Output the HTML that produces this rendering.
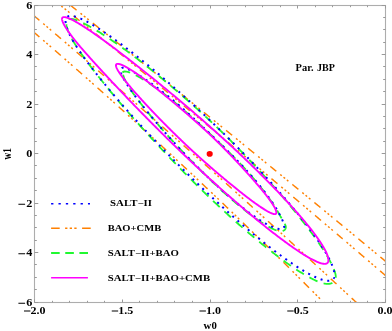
<!DOCTYPE html><html><head><meta charset="utf-8"><title>chart</title><style>html,body{margin:0;padding:0;background:#fff;}svg{display:block;will-change:transform;opacity:0.999;filter:blur(0.35px)}text{font-family:"Liberation Serif",serif;font-weight:bold;fill:#000}</style></head><body>
<svg width="392" height="331" viewBox="0 0 392 331">
<rect width="392" height="331" fill="#fff"/>
<defs><clipPath id="c"><rect x="34.50" y="5.50" width="351.00" height="297.00"/></clipPath></defs>
<g clip-path="url(#c)" fill="none">
<path d="M20.00,-34.70 L20.50,-34.30 L21.00,-33.91 L21.50,-33.51 L22.00,-33.12 L22.50,-32.72 L23.00,-32.33 L23.50,-31.93 L24.00,-31.54 L24.50,-31.14 L25.00,-30.75 L25.50,-30.35 L26.00,-29.96 L26.50,-29.56 L27.00,-29.17 L27.50,-28.77 L28.00,-28.38 L28.50,-27.98 L29.00,-27.59 L29.50,-27.19 L30.00,-26.79 L30.50,-26.40 L31.00,-26.00 L31.50,-25.61 L32.00,-25.21 L32.50,-24.82 L33.00,-24.42 L33.50,-24.03 L34.00,-23.63 L34.50,-23.24 L35.00,-22.84 L35.50,-22.44 L36.00,-22.05 L36.50,-21.65 L37.00,-21.26 L37.50,-20.86 L38.00,-20.47 L38.50,-20.07 L39.00,-19.67 L39.50,-19.28 L40.00,-18.88 L40.50,-18.49 L41.00,-18.09 L41.50,-17.69 L42.00,-17.30 L42.50,-16.90 L43.00,-16.51 L43.50,-16.11 L44.00,-15.71 L44.50,-15.32 L45.00,-14.92 L45.50,-14.52 L46.00,-14.13 L46.50,-13.73 L47.00,-13.34 L47.50,-12.94 L48.00,-12.54 L48.50,-12.15 L49.00,-11.75 L49.50,-11.35 L50.00,-10.96 L50.50,-10.56 L51.00,-10.16 L51.50,-9.77 L52.00,-9.37 L52.50,-8.98 L53.00,-8.58 L53.50,-8.18 L54.00,-7.79 L54.50,-7.39 L55.00,-6.99 L55.50,-6.60 L56.00,-6.20 L56.50,-5.80 L57.00,-5.40 L57.50,-5.01 L58.00,-4.61 L58.50,-4.21 L59.00,-3.82 L59.50,-3.42 L60.00,-3.02 L60.50,-2.63 L61.00,-2.23 L61.50,-1.83 L62.00,-1.43 L62.50,-1.04 L63.00,-0.64 L63.50,-0.24 L64.00,0.15 L64.50,0.55 L65.00,0.95 L65.50,1.35 L66.00,1.74 L66.50,2.14 L67.00,2.54 L67.50,2.94 L68.00,3.33 L68.50,3.73 L69.00,4.13 L69.50,4.53 L70.00,4.92 L70.50,5.32 L71.00,5.72 L71.50,6.12 L72.00,6.51 L72.50,6.91 L73.00,7.31 L73.50,7.71 L74.00,8.10 L74.50,8.50 L75.00,8.90 L75.50,9.30 L76.00,9.70 L76.50,10.09 L77.00,10.49 L77.50,10.89 L78.00,11.29 L78.50,11.69 L79.00,12.08 L79.50,12.48 L80.00,12.88 L80.50,13.28 L81.00,13.68 L81.50,14.07 L82.00,14.47 L82.50,14.87 L83.00,15.27 L83.50,15.67 L84.00,16.07 L84.50,16.46 L85.00,16.86 L85.50,17.26 L86.00,17.66 L86.50,18.06 L87.00,18.46 L87.50,18.85 L88.00,19.25 L88.50,19.65 L89.00,20.05 L89.50,20.45 L90.00,20.85 L90.50,21.25 L91.00,21.64 L91.50,22.04 L92.00,22.44 L92.50,22.84 L93.00,23.24 L93.50,23.64 L94.00,24.04 L94.50,24.44 L95.00,24.84 L95.50,25.23 L96.00,25.63 L96.50,26.03 L97.00,26.43 L97.50,26.83 L98.00,27.23 L98.50,27.63 L99.00,28.03 L99.50,28.43 L100.00,28.83 L100.50,29.23 L101.00,29.62 L101.50,30.02 L102.00,30.42 L102.50,30.82 L103.00,31.22 L103.50,31.62 L104.00,32.02 L104.50,32.42 L105.00,32.82 L105.50,33.22 L106.00,33.62 L106.50,34.02 L107.00,34.42 L107.50,34.82 L108.00,35.22 L108.50,35.62 L109.00,36.02 L109.50,36.42 L110.00,36.82 L110.50,37.22 L111.00,37.62 L111.50,38.02 L112.00,38.42 L112.50,38.82 L113.00,39.21 L113.50,39.61 L114.00,40.01 L114.50,40.41 L115.00,40.81 L115.50,41.21 L116.00,41.62 L116.50,42.02 L117.00,42.42 L117.50,42.82 L118.00,43.22 L118.50,43.62 L119.00,44.02 L119.50,44.42 L120.00,44.82 L120.50,45.22 L121.00,45.62 L121.50,46.02 L122.00,46.42 L122.50,46.82 L123.00,47.22 L123.50,47.62 L124.00,48.02 L124.50,48.42 L125.00,48.82 L125.50,49.22 L126.00,49.62 L126.50,50.02 L127.00,50.42 L127.50,50.82 L128.00,51.23 L128.50,51.63 L129.00,52.03 L129.50,52.43 L130.00,52.83 L130.50,53.23 L131.00,53.63 L131.50,54.03 L132.00,54.43 L132.50,54.83 L133.00,55.23 L133.50,55.63 L134.00,56.04 L134.50,56.44 L135.00,56.84 L135.50,57.24 L136.00,57.64 L136.50,58.04 L137.00,58.44 L137.50,58.84 L138.00,59.25 L138.50,59.65 L139.00,60.05 L139.50,60.45 L140.00,60.85 L140.50,61.25 L141.00,61.65 L141.50,62.06 L142.00,62.46 L142.50,62.86 L143.00,63.26 L143.50,63.66 L144.00,64.06 L144.50,64.46 L145.00,64.87 L145.50,65.27 L146.00,65.67 L146.50,66.07 L147.00,66.47 L147.50,66.87 L148.00,67.28 L148.50,67.68 L149.00,68.08 L149.50,68.48 L150.00,68.88 L150.50,69.29 L151.00,69.69 L151.50,70.09 L152.00,70.49 L152.50,70.89 L153.00,71.30 L153.50,71.70 L154.00,72.10 L154.50,72.50 L155.00,72.91 L155.50,73.31 L156.00,73.71 L156.50,74.11 L157.00,74.51 L157.50,74.92 L158.00,75.32 L158.50,75.72 L159.00,76.12 L159.50,76.53 L160.00,76.93 L160.50,77.33 L161.00,77.73 L161.50,78.14 L162.00,78.54 L162.50,78.94 L163.00,79.34 L163.50,79.75 L164.00,80.15 L164.50,80.55 L165.00,80.96 L165.50,81.36 L166.00,81.76 L166.50,82.16 L167.00,82.57 L167.50,82.97 L168.00,83.37 L168.50,83.78 L169.00,84.18 L169.50,84.58 L170.00,84.98 L170.50,85.39 L171.00,85.79 L171.50,86.19 L172.00,86.60 L172.50,87.00 L173.00,87.40 L173.50,87.81 L174.00,88.21 L174.50,88.61 L175.00,89.02 L175.50,89.42 L176.00,89.82 L176.50,90.23 L177.00,90.63 L177.50,91.03 L178.00,91.44 L178.50,91.84 L179.00,92.24 L179.50,92.65 L180.00,93.05 L180.50,93.45 L181.00,93.86 L181.50,94.26 L182.00,94.67 L182.50,95.07 L183.00,95.47 L183.50,95.88 L184.00,96.28 L184.50,96.68 L185.00,97.09 L185.50,97.49 L186.00,97.90 L186.50,98.30 L187.00,98.70 L187.50,99.11 L188.00,99.51 L188.50,99.92 L189.00,100.32 L189.50,100.72 L190.00,101.13 L190.50,101.53 L191.00,101.94 L191.50,102.34 L192.00,102.74 L192.50,103.15 L193.00,103.55 L193.50,103.96 L194.00,104.36 L194.50,104.77 L195.00,105.17 L195.50,105.58 L196.00,105.98 L196.50,106.38 L197.00,106.79 L197.50,107.19 L198.00,107.60 L198.50,108.00 L199.00,108.41 L199.50,108.81 L200.00,109.22 L200.50,109.62 L201.00,110.03 L201.50,110.43 L202.00,110.84 L202.50,111.24 L203.00,111.65 L203.50,112.05 L204.00,112.45 L204.50,112.86 L205.00,113.26 L205.50,113.67 L206.00,114.07 L206.50,114.48 L207.00,114.88 L207.50,115.29 L208.00,115.70 L208.50,116.10 L209.00,116.51 L209.50,116.91 L210.00,117.32 L210.50,117.72 L211.00,118.13 L211.50,118.53 L212.00,118.94 L212.50,119.34 L213.00,119.75 L213.50,120.15 L214.00,120.56 L214.50,120.96 L215.00,121.37 L215.50,121.78 L216.00,122.18 L216.50,122.59 L217.00,122.99 L217.50,123.40 L218.00,123.80 L218.50,124.21 L219.00,124.61 L219.50,125.02 L220.00,125.43 L220.50,125.83 L221.00,126.24 L221.50,126.64 L222.00,127.05 L222.50,127.46 L223.00,127.86 L223.50,128.27 L224.00,128.67 L224.50,129.08 L225.00,129.49 L225.50,129.89 L226.00,130.30 L226.50,130.70 L227.00,131.11 L227.50,131.52 L228.00,131.92 L228.50,132.33 L229.00,132.73 L229.50,133.14 L230.00,133.55 L230.50,133.95 L231.00,134.36 L231.50,134.77 L232.00,135.17 L232.50,135.58 L233.00,135.99 L233.50,136.39 L234.00,136.80 L234.50,137.21 L235.00,137.61 L235.50,138.02 L236.00,138.43 L236.50,138.83 L237.00,139.24 L237.50,139.65 L238.00,140.05 L238.50,140.46 L239.00,140.87 L239.50,141.27 L240.00,141.68 L240.50,142.09 L241.00,142.49 L241.50,142.90 L242.00,143.31 L242.50,143.71 L243.00,144.12 L243.50,144.53 L244.00,144.94 L244.50,145.34 L245.00,145.75 L245.50,146.16 L246.00,146.56 L246.50,146.97 L247.00,147.38 L247.50,147.79 L248.00,148.19 L248.50,148.60 L249.00,149.01 L249.50,149.42 L250.00,149.82 L250.50,150.23 L251.00,150.64 L251.50,151.04 L252.00,151.45 L252.50,151.86 L253.00,152.27 L253.50,152.68 L254.00,153.08 L254.50,153.49 L255.00,153.90 L255.50,154.31 L256.00,154.71 L256.50,155.12 L257.00,155.53 L257.50,155.94 L258.00,156.34 L258.50,156.75 L259.00,157.16 L259.50,157.57 L260.00,157.98 L260.50,158.38 L261.00,158.79 L261.50,159.20 L262.00,159.61 L262.50,160.02 L263.00,160.43 L263.50,160.83 L264.00,161.24 L264.50,161.65 L265.00,162.06 L265.50,162.47 L266.00,162.87 L266.50,163.28 L267.00,163.69 L267.50,164.10 L268.00,164.51 L268.50,164.92 L269.00,165.32 L269.50,165.73 L270.00,166.14 L270.50,166.55 L271.00,166.96 L271.50,167.37 L272.00,167.78 L272.50,168.18 L273.00,168.59 L273.50,169.00 L274.00,169.41 L274.50,169.82 L275.00,170.23 L275.50,170.64 L276.00,171.05 L276.50,171.45 L277.00,171.86 L277.50,172.27 L278.00,172.68 L278.50,173.09 L279.00,173.50 L279.50,173.91 L280.00,174.32 L280.50,174.73 L281.00,175.14 L281.50,175.55 L282.00,175.95 L282.50,176.36 L283.00,176.77 L283.50,177.18 L284.00,177.59 L284.50,178.00 L285.00,178.41 L285.50,178.82 L286.00,179.23 L286.50,179.64 L287.00,180.05 L287.50,180.46 L288.00,180.87 L288.50,181.28 L289.00,181.69 L289.50,182.10 L290.00,182.50 L290.50,182.91 L291.00,183.32 L291.50,183.73 L292.00,184.14 L292.50,184.55 L293.00,184.96 L293.50,185.37 L294.00,185.78 L294.50,186.19 L295.00,186.60 L295.50,187.01 L296.00,187.42 L296.50,187.83 L297.00,188.24 L297.50,188.65 L298.00,189.06 L298.50,189.47 L299.00,189.88 L299.50,190.29 L300.00,190.70 L300.50,191.11 L301.00,191.52 L301.50,191.93 L302.00,192.34 L302.50,192.75 L303.00,193.16 L303.50,193.57 L304.00,193.98 L304.50,194.40 L305.00,194.81 L305.50,195.22 L306.00,195.63 L306.50,196.04 L307.00,196.45 L307.50,196.86 L308.00,197.27 L308.50,197.68 L309.00,198.09 L309.50,198.50 L310.00,198.91 L310.50,199.32 L311.00,199.73 L311.50,200.14 L312.00,200.55 L312.50,200.97 L313.00,201.38 L313.50,201.79 L314.00,202.20 L314.50,202.61 L315.00,203.02 L315.50,203.43 L316.00,203.84 L316.50,204.25 L317.00,204.66 L317.50,205.08 L318.00,205.49 L318.50,205.90 L319.00,206.31 L319.50,206.72 L320.00,207.13 L320.50,207.54 L321.00,207.95 L321.50,208.37 L322.00,208.78 L322.50,209.19 L323.00,209.60 L323.50,210.01 L324.00,210.42 L324.50,210.83 L325.00,211.25 L325.50,211.66 L326.00,212.07 L326.50,212.48 L327.00,212.89 L327.50,213.30 L328.00,213.72 L328.50,214.13 L329.00,214.54 L329.50,214.95 L330.00,215.36 L330.50,215.77 L331.00,216.19 L331.50,216.60 L332.00,217.01 L332.50,217.42 L333.00,217.83 L333.50,218.25 L334.00,218.66 L334.50,219.07 L335.00,219.48 L335.50,219.89 L336.00,220.31 L336.50,220.72 L337.00,221.13 L337.50,221.54 L338.00,221.95 L338.50,222.37 L339.00,222.78 L339.50,223.19 L340.00,223.60 L340.50,224.02 L341.00,224.43 L341.50,224.84 L342.00,225.25 L342.50,225.67 L343.00,226.08 L343.50,226.49 L344.00,226.90 L344.50,227.32 L345.00,227.73 L345.50,228.14 L346.00,228.55 L346.50,228.97 L347.00,229.38 L347.50,229.79 L348.00,230.21 L348.50,230.62 L349.00,231.03 L349.50,231.44 L350.00,231.86 L350.50,232.27 L351.00,232.68 L351.50,233.10 L352.00,233.51 L352.50,233.92 L353.00,234.33 L353.50,234.75 L354.00,235.16 L354.50,235.57 L355.00,235.99 L355.50,236.40 L356.00,236.81 L356.50,237.23 L357.00,237.64 L357.50,238.05 L358.00,238.47 L358.50,238.88 L359.00,239.29 L359.50,239.71 L360.00,240.12 L360.50,240.53 L361.00,240.95 L361.50,241.36 L362.00,241.77 L362.50,242.19 L363.00,242.60 L363.50,243.02 L364.00,243.43 L364.50,243.84 L365.00,244.26 L365.50,244.67 L366.00,245.08 L366.50,245.50 L367.00,245.91 L367.50,246.33 L368.00,246.74 L368.50,247.15 L369.00,247.57 L369.50,247.98 L370.00,248.40 L370.50,248.81 L371.00,249.22 L371.50,249.64 L372.00,250.05 L372.50,250.47 L373.00,250.88 L373.50,251.29 L374.00,251.71 L374.50,252.12 L375.00,252.54 L375.50,252.95 L376.00,253.37 L376.50,253.78 L377.00,254.19 L377.50,254.61 L378.00,255.02 L378.50,255.44 L379.00,255.85 L379.50,256.27 L380.00,256.68 L380.50,257.10 L381.00,257.51 L381.50,257.92 L382.00,258.34 L382.50,258.75 L383.00,259.17 L383.50,259.58 L384.00,260.00 L384.50,260.41 L385.00,260.83 L385.50,261.24 L386.00,261.66 L386.50,262.07 L387.00,262.49 L387.50,262.90 L388.00,263.32 L388.50,263.73 L389.00,264.15 L389.50,264.56 L390.00,264.98 L390.50,265.39 L391.00,265.81 L391.50,266.22 L392.00,266.64 L392.50,267.05 L393.00,267.47 L393.50,267.88 L394.00,268.30 L394.50,268.71 L395.00,269.13 L395.50,269.55 L396.00,269.96 L396.50,270.38 L397.00,270.79 L397.50,271.21 L398.00,271.62 L398.50,272.04 L399.00,272.45 L399.50,272.87 L400.00,273.28" stroke="#ff8000" stroke-width="1.45" stroke-dasharray="7.7766 5.0348 1.994 2.2931 1.994 2.2931 1.994 5.1345" stroke-dashoffset="21.11"/>
<path d="M20.00,-27.00 L20.50,-26.60 L21.00,-26.20 L21.50,-25.81 L22.00,-25.41 L22.50,-25.01 L23.00,-24.61 L23.50,-24.21 L24.00,-23.81 L24.50,-23.42 L25.00,-23.02 L25.50,-22.62 L26.00,-22.22 L26.50,-21.82 L27.00,-21.42 L27.50,-21.03 L28.00,-20.63 L28.50,-20.23 L29.00,-19.83 L29.50,-19.43 L30.00,-19.03 L30.50,-18.63 L31.00,-18.23 L31.50,-17.83 L32.00,-17.44 L32.50,-17.04 L33.00,-16.64 L33.50,-16.24 L34.00,-15.84 L34.50,-15.44 L35.00,-15.04 L35.50,-14.64 L36.00,-14.24 L36.50,-13.84 L37.00,-13.44 L37.50,-13.04 L38.00,-12.64 L38.50,-12.25 L39.00,-11.85 L39.50,-11.45 L40.00,-11.05 L40.50,-10.65 L41.00,-10.25 L41.50,-9.85 L42.00,-9.45 L42.50,-9.05 L43.00,-8.65 L43.50,-8.25 L44.00,-7.85 L44.50,-7.45 L45.00,-7.05 L45.50,-6.65 L46.00,-6.25 L46.50,-5.85 L47.00,-5.45 L47.50,-5.05 L48.00,-4.65 L48.50,-4.25 L49.00,-3.85 L49.50,-3.44 L50.00,-3.04 L50.50,-2.64 L51.00,-2.24 L51.50,-1.84 L52.00,-1.44 L52.50,-1.04 L53.00,-0.64 L53.50,-0.24 L54.00,0.16 L54.50,0.56 L55.00,0.96 L55.50,1.36 L56.00,1.77 L56.50,2.17 L57.00,2.57 L57.50,2.97 L58.00,3.37 L58.50,3.77 L59.00,4.17 L59.50,4.57 L60.00,4.98 L60.50,5.38 L61.00,5.78 L61.50,6.18 L62.00,6.58 L62.50,6.98 L63.00,7.39 L63.50,7.79 L64.00,8.19 L64.50,8.59 L65.00,8.99 L65.50,9.39 L66.00,9.80 L66.50,10.20 L67.00,10.60 L67.50,11.00 L68.00,11.40 L68.50,11.81 L69.00,12.21 L69.50,12.61 L70.00,13.01 L70.50,13.42 L71.00,13.82 L71.50,14.22 L72.00,14.62 L72.50,15.03 L73.00,15.43 L73.50,15.83 L74.00,16.23 L74.50,16.64 L75.00,17.04 L75.50,17.44 L76.00,17.84 L76.50,18.25 L77.00,18.65 L77.50,19.05 L78.00,19.46 L78.50,19.86 L79.00,20.26 L79.50,20.66 L80.00,21.07 L80.50,21.47 L81.00,21.87 L81.50,22.28 L82.00,22.68 L82.50,23.08 L83.00,23.49 L83.50,23.89 L84.00,24.29 L84.50,24.70 L85.00,25.10 L85.50,25.51 L86.00,25.91 L86.50,26.31 L87.00,26.72 L87.50,27.12 L88.00,27.52 L88.50,27.93 L89.00,28.33 L89.50,28.74 L90.00,29.14 L90.50,29.54 L91.00,29.95 L91.50,30.35 L92.00,30.76 L92.50,31.16 L93.00,31.56 L93.50,31.97 L94.00,32.37 L94.50,32.78 L95.00,33.18 L95.50,33.59 L96.00,33.99 L96.50,34.40 L97.00,34.80 L97.50,35.21 L98.00,35.61 L98.50,36.01 L99.00,36.42 L99.50,36.82 L100.00,37.23 L100.50,37.63 L101.00,38.04 L101.50,38.44 L102.00,38.85 L102.50,39.25 L103.00,39.66 L103.50,40.06 L104.00,40.47 L104.50,40.88 L105.00,41.28 L105.50,41.69 L106.00,42.09 L106.50,42.50 L107.00,42.90 L107.50,43.31 L108.00,43.71 L108.50,44.12 L109.00,44.52 L109.50,44.93 L110.00,45.34 L110.50,45.74 L111.00,46.15 L111.50,46.55 L112.00,46.96 L112.50,47.37 L113.00,47.77 L113.50,48.18 L114.00,48.58 L114.50,48.99 L115.00,49.40 L115.50,49.80 L116.00,50.21 L116.50,50.61 L117.00,51.02 L117.50,51.43 L118.00,51.83 L118.50,52.24 L119.00,52.65 L119.50,53.05 L120.00,53.46 L120.50,53.87 L121.00,54.27 L121.50,54.68 L122.00,55.09 L122.50,55.49 L123.00,55.90 L123.50,56.31 L124.00,56.71 L124.50,57.12 L125.00,57.53 L125.50,57.94 L126.00,58.34 L126.50,58.75 L127.00,59.16 L127.50,59.57 L128.00,59.97 L128.50,60.38 L129.00,60.79 L129.50,61.19 L130.00,61.60 L130.50,62.01 L131.00,62.42 L131.50,62.82 L132.00,63.23 L132.50,63.64 L133.00,64.05 L133.50,64.46 L134.00,64.86 L134.50,65.27 L135.00,65.68 L135.50,66.09 L136.00,66.50 L136.50,66.90 L137.00,67.31 L137.50,67.72 L138.00,68.13 L138.50,68.54 L139.00,68.94 L139.50,69.35 L140.00,69.76 L140.50,70.17 L141.00,70.58 L141.50,70.99 L142.00,71.40 L142.50,71.80 L143.00,72.21 L143.50,72.62 L144.00,73.03 L144.50,73.44 L145.00,73.85 L145.50,74.26 L146.00,74.66 L146.50,75.07 L147.00,75.48 L147.50,75.89 L148.00,76.30 L148.50,76.71 L149.00,77.12 L149.50,77.53 L150.00,77.94 L150.50,78.35 L151.00,78.76 L151.50,79.17 L152.00,79.57 L152.50,79.98 L153.00,80.39 L153.50,80.80 L154.00,81.21 L154.50,81.62 L155.00,82.03 L155.50,82.44 L156.00,82.85 L156.50,83.26 L157.00,83.67 L157.50,84.08 L158.00,84.49 L158.50,84.90 L159.00,85.31 L159.50,85.72 L160.00,86.13 L160.50,86.54 L161.00,86.95 L161.50,87.36 L162.00,87.77 L162.50,88.18 L163.00,88.59 L163.50,89.00 L164.00,89.41 L164.50,89.82 L165.00,90.23 L165.50,90.65 L166.00,91.06 L166.50,91.47 L167.00,91.88 L167.50,92.29 L168.00,92.70 L168.50,93.11 L169.00,93.52 L169.50,93.93 L170.00,94.34 L170.50,94.75 L171.00,95.16 L171.50,95.58 L172.00,95.99 L172.50,96.40 L173.00,96.81 L173.50,97.22 L174.00,97.63 L174.50,98.04 L175.00,98.45 L175.50,98.87 L176.00,99.28 L176.50,99.69 L177.00,100.10 L177.50,100.51 L178.00,100.92 L178.50,101.34 L179.00,101.75 L179.50,102.16 L180.00,102.57 L180.50,102.98 L181.00,103.40 L181.50,103.81 L182.00,104.22 L182.50,104.63 L183.00,105.04 L183.50,105.46 L184.00,105.87 L184.50,106.28 L185.00,106.69 L185.50,107.10 L186.00,107.52 L186.50,107.93 L187.00,108.34 L187.50,108.75 L188.00,109.17 L188.50,109.58 L189.00,109.99 L189.50,110.40 L190.00,110.82 L190.50,111.23 L191.00,111.64 L191.50,112.06 L192.00,112.47 L192.50,112.88 L193.00,113.29 L193.50,113.71 L194.00,114.12 L194.50,114.53 L195.00,114.95 L195.50,115.36 L196.00,115.77 L196.50,116.19 L197.00,116.60 L197.50,117.01 L198.00,117.43 L198.50,117.84 L199.00,118.25 L199.50,118.67 L200.00,119.08 L200.50,119.49 L201.00,119.91 L201.50,120.32 L202.00,120.74 L202.50,121.15 L203.00,121.56 L203.50,121.98 L204.00,122.39 L204.50,122.81 L205.00,123.22 L205.50,123.63 L206.00,124.05 L206.50,124.46 L207.00,124.88 L207.50,125.29 L208.00,125.70 L208.50,126.12 L209.00,126.53 L209.50,126.95 L210.00,127.36 L210.50,127.78 L211.00,128.19 L211.50,128.61 L212.00,129.02 L212.50,129.43 L213.00,129.85 L213.50,130.26 L214.00,130.68 L214.50,131.09 L215.00,131.51 L215.50,131.92 L216.00,132.34 L216.50,132.75 L217.00,133.17 L217.50,133.58 L218.00,134.00 L218.50,134.41 L219.00,134.83 L219.50,135.24 L220.00,135.66 L220.50,136.08 L221.00,136.49 L221.50,136.91 L222.00,137.32 L222.50,137.74 L223.00,138.15 L223.50,138.57 L224.00,138.98 L224.50,139.40 L225.00,139.82 L225.50,140.23 L226.00,140.65 L226.50,141.06 L227.00,141.48 L227.50,141.90 L228.00,142.31 L228.50,142.73 L229.00,143.14 L229.50,143.56 L230.00,143.98 L230.50,144.39 L231.00,144.81 L231.50,145.22 L232.00,145.64 L232.50,146.06 L233.00,146.47 L233.50,146.89 L234.00,147.31 L234.50,147.72 L235.00,148.14 L235.50,148.56 L236.00,148.97 L236.50,149.39 L237.00,149.81 L237.50,150.22 L238.00,150.64 L238.50,151.06 L239.00,151.47 L239.50,151.89 L240.00,152.31 L240.50,152.73 L241.00,153.14 L241.50,153.56 L242.00,153.98 L242.50,154.39 L243.00,154.81 L243.50,155.23 L244.00,155.65 L244.50,156.06 L245.00,156.48 L245.50,156.90 L246.00,157.32 L246.50,157.73 L247.00,158.15 L247.50,158.57 L248.00,158.99 L248.50,159.41 L249.00,159.82 L249.50,160.24 L250.00,160.66 L250.50,161.08 L251.00,161.50 L251.50,161.91 L252.00,162.33 L252.50,162.75 L253.00,163.17 L253.50,163.59 L254.00,164.00 L254.50,164.42 L255.00,164.84 L255.50,165.26 L256.00,165.68 L256.50,166.10 L257.00,166.51 L257.50,166.93 L258.00,167.35 L258.50,167.77 L259.00,168.19 L259.50,168.61 L260.00,169.03 L260.50,169.45 L261.00,169.86 L261.50,170.28 L262.00,170.70 L262.50,171.12 L263.00,171.54 L263.50,171.96 L264.00,172.38 L264.50,172.80 L265.00,173.22 L265.50,173.64 L266.00,174.06 L266.50,174.48 L267.00,174.89 L267.50,175.31 L268.00,175.73 L268.50,176.15 L269.00,176.57 L269.50,176.99 L270.00,177.41 L270.50,177.83 L271.00,178.25 L271.50,178.67 L272.00,179.09 L272.50,179.51 L273.00,179.93 L273.50,180.35 L274.00,180.77 L274.50,181.19 L275.00,181.61 L275.50,182.03 L276.00,182.45 L276.50,182.87 L277.00,183.29 L277.50,183.71 L278.00,184.13 L278.50,184.55 L279.00,184.97 L279.50,185.39 L280.00,185.82 L280.50,186.24 L281.00,186.66 L281.50,187.08 L282.00,187.50 L282.50,187.92 L283.00,188.34 L283.50,188.76 L284.00,189.18 L284.50,189.60 L285.00,190.02 L285.50,190.44 L286.00,190.86 L286.50,191.29 L287.00,191.71 L287.50,192.13 L288.00,192.55 L288.50,192.97 L289.00,193.39 L289.50,193.81 L290.00,194.24 L290.50,194.66 L291.00,195.08 L291.50,195.50 L292.00,195.92 L292.50,196.34 L293.00,196.76 L293.50,197.19 L294.00,197.61 L294.50,198.03 L295.00,198.45 L295.50,198.87 L296.00,199.30 L296.50,199.72 L297.00,200.14 L297.50,200.56 L298.00,200.98 L298.50,201.41 L299.00,201.83 L299.50,202.25 L300.00,202.67 L300.50,203.09 L301.00,203.52 L301.50,203.94 L302.00,204.36 L302.50,204.78 L303.00,205.21 L303.50,205.63 L304.00,206.05 L304.50,206.48 L305.00,206.90 L305.50,207.32 L306.00,207.74 L306.50,208.17 L307.00,208.59 L307.50,209.01 L308.00,209.44 L308.50,209.86 L309.00,210.28 L309.50,210.70 L310.00,211.13 L310.50,211.55 L311.00,211.97 L311.50,212.40 L312.00,212.82 L312.50,213.24 L313.00,213.67 L313.50,214.09 L314.00,214.51 L314.50,214.94 L315.00,215.36 L315.50,215.79 L316.00,216.21 L316.50,216.63 L317.00,217.06 L317.50,217.48 L318.00,217.90 L318.50,218.33 L319.00,218.75 L319.50,219.18 L320.00,219.60 L320.50,220.02 L321.00,220.45 L321.50,220.87 L322.00,221.30 L322.50,221.72 L323.00,222.14 L323.50,222.57 L324.00,222.99 L324.50,223.42 L325.00,223.84 L325.50,224.27 L326.00,224.69 L326.50,225.12 L327.00,225.54 L327.50,225.97 L328.00,226.39 L328.50,226.81 L329.00,227.24 L329.50,227.66 L330.00,228.09 L330.50,228.51 L331.00,228.94 L331.50,229.36 L332.00,229.79 L332.50,230.21 L333.00,230.64 L333.50,231.06 L334.00,231.49 L334.50,231.92 L335.00,232.34 L335.50,232.77 L336.00,233.19 L336.50,233.62 L337.00,234.04 L337.50,234.47 L338.00,234.89 L338.50,235.32 L339.00,235.74 L339.50,236.17 L340.00,236.60 L340.50,237.02 L341.00,237.45 L341.50,237.87 L342.00,238.30 L342.50,238.73 L343.00,239.15 L343.50,239.58 L344.00,240.00 L344.50,240.43 L345.00,240.86 L345.50,241.28 L346.00,241.71 L346.50,242.14 L347.00,242.56 L347.50,242.99 L348.00,243.41 L348.50,243.84 L349.00,244.27 L349.50,244.69 L350.00,245.12 L350.50,245.55 L351.00,245.97 L351.50,246.40 L352.00,246.83 L352.50,247.25 L353.00,247.68 L353.50,248.11 L354.00,248.54 L354.50,248.96 L355.00,249.39 L355.50,249.82 L356.00,250.24 L356.50,250.67 L357.00,251.10 L357.50,251.53 L358.00,251.95 L358.50,252.38 L359.00,252.81 L359.50,253.24 L360.00,253.66 L360.50,254.09 L361.00,254.52 L361.50,254.95 L362.00,255.37 L362.50,255.80 L363.00,256.23 L363.50,256.66 L364.00,257.08 L364.50,257.51 L365.00,257.94 L365.50,258.37 L366.00,258.80 L366.50,259.22 L367.00,259.65 L367.50,260.08 L368.00,260.51 L368.50,260.94 L369.00,261.37 L369.50,261.79 L370.00,262.22 L370.50,262.65 L371.00,263.08 L371.50,263.51 L372.00,263.94 L372.50,264.36 L373.00,264.79 L373.50,265.22 L374.00,265.65 L374.50,266.08 L375.00,266.51 L375.50,266.94 L376.00,267.37 L376.50,267.79 L377.00,268.22 L377.50,268.65 L378.00,269.08 L378.50,269.51 L379.00,269.94 L379.50,270.37 L380.00,270.80 L380.50,271.23 L381.00,271.66 L381.50,272.09 L382.00,272.52 L382.50,272.95 L383.00,273.38 L383.50,273.80 L384.00,274.23 L384.50,274.66 L385.00,275.09 L385.50,275.52 L386.00,275.95 L386.50,276.38 L387.00,276.81 L387.50,277.24 L388.00,277.67 L388.50,278.10 L389.00,278.53 L389.50,278.96 L390.00,279.39 L390.50,279.82 L391.00,280.25 L391.50,280.68 L392.00,281.11 L392.50,281.54 L393.00,281.97 L393.50,282.40 L394.00,282.84 L394.50,283.27 L395.00,283.70 L395.50,284.13 L396.00,284.56 L396.50,284.99 L397.00,285.42 L397.50,285.85 L398.00,286.28 L398.50,286.71 L399.00,287.14 L399.50,287.57 L400.00,288.00" stroke="#ff8000" stroke-width="1.45" stroke-dasharray="7.7688 5.0298 1.992 2.2908 1.992 2.2908 1.992 5.1294" stroke-dashoffset="16.92"/>
<path d="M20.00,3.90 L20.50,4.32 L21.00,4.74 L21.50,5.17 L22.00,5.59 L22.50,6.01 L23.00,6.43 L23.50,6.86 L24.00,7.28 L24.50,7.70 L25.00,8.12 L25.50,8.55 L26.00,8.97 L26.50,9.39 L27.00,9.82 L27.50,10.24 L28.00,10.66 L28.50,11.09 L29.00,11.51 L29.50,11.93 L30.00,12.36 L30.50,12.78 L31.00,13.20 L31.50,13.63 L32.00,14.05 L32.50,14.47 L33.00,14.90 L33.50,15.32 L34.00,15.75 L34.50,16.17 L35.00,16.59 L35.50,17.02 L36.00,17.44 L36.50,17.87 L37.00,18.29 L37.50,18.71 L38.00,19.14 L38.50,19.56 L39.00,19.99 L39.50,20.41 L40.00,20.84 L40.50,21.26 L41.00,21.69 L41.50,22.11 L42.00,22.54 L42.50,22.96 L43.00,23.39 L43.50,23.81 L44.00,24.24 L44.50,24.66 L45.00,25.09 L45.50,25.51 L46.00,25.94 L46.50,26.36 L47.00,26.79 L47.50,27.22 L48.00,27.64 L48.50,28.07 L49.00,28.49 L49.50,28.92 L50.00,29.35 L50.50,29.77 L51.00,30.20 L51.50,30.62 L52.00,31.05 L52.50,31.48 L53.00,31.90 L53.50,32.33 L54.00,32.76 L54.50,33.18 L55.00,33.61 L55.50,34.04 L56.00,34.46 L56.50,34.89 L57.00,35.32 L57.50,35.74 L58.00,36.17 L58.50,36.60 L59.00,37.02 L59.50,37.45 L60.00,37.88 L60.50,38.31 L61.00,38.73 L61.50,39.16 L62.00,39.59 L62.50,40.02 L63.00,40.44 L63.50,40.87 L64.00,41.30 L64.50,41.73 L65.00,42.16 L65.50,42.58 L66.00,43.01 L66.50,43.44 L67.00,43.87 L67.50,44.30 L68.00,44.72 L68.50,45.15 L69.00,45.58 L69.50,46.01 L70.00,46.44 L70.50,46.87 L71.00,47.30 L71.50,47.72 L72.00,48.15 L72.50,48.58 L73.00,49.01 L73.50,49.44 L74.00,49.87 L74.50,50.30 L75.00,50.73 L75.50,51.16 L76.00,51.59 L76.50,52.02 L77.00,52.44 L77.50,52.87 L78.00,53.30 L78.50,53.73 L79.00,54.16 L79.50,54.59 L80.00,55.02 L80.50,55.45 L81.00,55.88 L81.50,56.31 L82.00,56.74 L82.50,57.17 L83.00,57.60 L83.50,58.03 L84.00,58.46 L84.50,58.89 L85.00,59.33 L85.50,59.76 L86.00,60.19 L86.50,60.62 L87.00,61.05 L87.50,61.48 L88.00,61.91 L88.50,62.34 L89.00,62.77 L89.50,63.20 L90.00,63.63 L90.50,64.07 L91.00,64.50 L91.50,64.93 L92.00,65.36 L92.50,65.79 L93.00,66.22 L93.50,66.65 L94.00,67.09 L94.50,67.52 L95.00,67.95 L95.50,68.38 L96.00,68.81 L96.50,69.24 L97.00,69.68 L97.50,70.11 L98.00,70.54 L98.50,70.97 L99.00,71.41 L99.50,71.84 L100.00,72.27 L100.50,72.70 L101.00,73.14 L101.50,73.57 L102.00,74.00 L102.50,74.43 L103.00,74.87 L103.50,75.30 L104.00,75.73 L104.50,76.17 L105.00,76.60 L105.50,77.03 L106.00,77.46 L106.50,77.90 L107.00,78.33 L107.50,78.76 L108.00,79.20 L108.50,79.63 L109.00,80.07 L109.50,80.50 L110.00,80.93 L110.50,81.37 L111.00,81.80 L111.50,82.23 L112.00,82.67 L112.50,83.10 L113.00,83.54 L113.50,83.97 L114.00,84.41 L114.50,84.84 L115.00,85.27 L115.50,85.71 L116.00,86.14 L116.50,86.58 L117.00,87.01 L117.50,87.45 L118.00,87.88 L118.50,88.32 L119.00,88.75 L119.50,89.19 L120.00,89.62 L120.50,90.06 L121.00,90.49 L121.50,90.93 L122.00,91.36 L122.50,91.80 L123.00,92.23 L123.50,92.67 L124.00,93.10 L124.50,93.54 L125.00,93.97 L125.50,94.41 L126.00,94.85 L126.50,95.28 L127.00,95.72 L127.50,96.15 L128.00,96.59 L128.50,97.03 L129.00,97.46 L129.50,97.90 L130.00,98.34 L130.50,98.77 L131.00,99.21 L131.50,99.64 L132.00,100.08 L132.50,100.52 L133.00,100.95 L133.50,101.39 L134.00,101.83 L134.50,102.26 L135.00,102.70 L135.50,103.14 L136.00,103.58 L136.50,104.01 L137.00,104.45 L137.50,104.89 L138.00,105.32 L138.50,105.76 L139.00,106.20 L139.50,106.64 L140.00,107.07 L140.50,107.51 L141.00,107.95 L141.50,108.39 L142.00,108.83 L142.50,109.26 L143.00,109.70 L143.50,110.14 L144.00,110.58 L144.50,111.02 L145.00,111.45 L145.50,111.89 L146.00,112.33 L146.50,112.77 L147.00,113.21 L147.50,113.65 L148.00,114.09 L148.50,114.52 L149.00,114.96 L149.50,115.40 L150.00,115.84 L150.50,116.28 L151.00,116.72 L151.50,117.16 L152.00,117.60 L152.50,118.04 L153.00,118.48 L153.50,118.91 L154.00,119.35 L154.50,119.79 L155.00,120.23 L155.50,120.67 L156.00,121.11 L156.50,121.55 L157.00,121.99 L157.50,122.43 L158.00,122.87 L158.50,123.31 L159.00,123.75 L159.50,124.19 L160.00,124.63 L160.50,125.07 L161.00,125.51 L161.50,125.95 L162.00,126.39 L162.50,126.83 L163.00,127.27 L163.50,127.71 L164.00,128.16 L164.50,128.60 L165.00,129.04 L165.50,129.48 L166.00,129.92 L166.50,130.36 L167.00,130.80 L167.50,131.24 L168.00,131.68 L168.50,132.12 L169.00,132.57 L169.50,133.01 L170.00,133.45 L170.50,133.89 L171.00,134.33 L171.50,134.77 L172.00,135.22 L172.50,135.66 L173.00,136.10 L173.50,136.54 L174.00,136.98 L174.50,137.43 L175.00,137.87 L175.50,138.31 L176.00,138.75 L176.50,139.19 L177.00,139.64 L177.50,140.08 L178.00,140.52 L178.50,140.96 L179.00,141.41 L179.50,141.85 L180.00,142.29 L180.50,142.73 L181.00,143.18 L181.50,143.62 L182.00,144.06 L182.50,144.51 L183.00,144.95 L183.50,145.39 L184.00,145.84 L184.50,146.28 L185.00,146.72 L185.50,147.17 L186.00,147.61 L186.50,148.05 L187.00,148.50 L187.50,148.94 L188.00,149.39 L188.50,149.83 L189.00,150.27 L189.50,150.72 L190.00,151.16 L190.50,151.60 L191.00,152.05 L191.50,152.49 L192.00,152.94 L192.50,153.38 L193.00,153.83 L193.50,154.27 L194.00,154.72 L194.50,155.16 L195.00,155.60 L195.50,156.05 L196.00,156.49 L196.50,156.94 L197.00,157.38 L197.50,157.83 L198.00,158.27 L198.50,158.72 L199.00,159.16 L199.50,159.61 L200.00,160.06 L200.50,160.50 L201.00,160.95 L201.50,161.39 L202.00,161.84 L202.50,162.28 L203.00,162.73 L203.50,163.17 L204.00,163.62 L204.50,164.07 L205.00,164.51 L205.50,164.96 L206.00,165.40 L206.50,165.85 L207.00,166.30 L207.50,166.74 L208.00,167.19 L208.50,167.64 L209.00,168.08 L209.50,168.53 L210.00,168.98 L210.50,169.42 L211.00,169.87 L211.50,170.32 L212.00,170.76 L212.50,171.21 L213.00,171.66 L213.50,172.10 L214.00,172.55 L214.50,173.00 L215.00,173.45 L215.50,173.89 L216.00,174.34 L216.50,174.79 L217.00,175.24 L217.50,175.68 L218.00,176.13 L218.50,176.58 L219.00,177.03 L219.50,177.47 L220.00,177.92 L220.50,178.37 L221.00,178.82 L221.50,179.27 L222.00,179.71 L222.50,180.16 L223.00,180.61 L223.50,181.06 L224.00,181.51 L224.50,181.96 L225.00,182.40 L225.50,182.85 L226.00,183.30 L226.50,183.75 L227.00,184.20 L227.50,184.65 L228.00,185.10 L228.50,185.55 L229.00,186.00 L229.50,186.44 L230.00,186.89 L230.50,187.34 L231.00,187.79 L231.50,188.24 L232.00,188.69 L232.50,189.14 L233.00,189.59 L233.50,190.04 L234.00,190.49 L234.50,190.94 L235.00,191.39 L235.50,191.84 L236.00,192.29 L236.50,192.74 L237.00,193.19 L237.50,193.64 L238.00,194.09 L238.50,194.54 L239.00,194.99 L239.50,195.44 L240.00,195.89 L240.50,196.34 L241.00,196.79 L241.50,197.24 L242.00,197.69 L242.50,198.15 L243.00,198.60 L243.50,199.05 L244.00,199.50 L244.50,199.95 L245.00,200.40 L245.50,200.85 L246.00,201.30 L246.50,201.75 L247.00,202.21 L247.50,202.66 L248.00,203.11 L248.50,203.56 L249.00,204.01 L249.50,204.46 L250.00,204.92 L250.50,205.37 L251.00,205.82 L251.50,206.27 L252.00,206.72 L252.50,207.18 L253.00,207.63 L253.50,208.08 L254.00,208.53 L254.50,208.98 L255.00,209.44 L255.50,209.89 L256.00,210.34 L256.50,210.79 L257.00,211.25 L257.50,211.70 L258.00,212.15 L258.50,212.61 L259.00,213.06 L259.50,213.51 L260.00,213.96 L260.50,214.42 L261.00,214.87 L261.50,215.32 L262.00,215.78 L262.50,216.23 L263.00,216.68 L263.50,217.14 L264.00,217.59 L264.50,218.05 L265.00,218.50 L265.50,218.95 L266.00,219.41 L266.50,219.86 L267.00,220.31 L267.50,220.77 L268.00,221.22 L268.50,221.68 L269.00,222.13 L269.50,222.59 L270.00,223.04 L270.50,223.49 L271.00,223.95 L271.50,224.40 L272.00,224.86 L272.50,225.31 L273.00,225.77 L273.50,226.22 L274.00,226.68 L274.50,227.13 L275.00,227.59 L275.50,228.04 L276.00,228.50 L276.50,228.95 L277.00,229.41 L277.50,229.86 L278.00,230.32 L278.50,230.77 L279.00,231.23 L279.50,231.69 L280.00,232.14 L280.50,232.60 L281.00,233.05 L281.50,233.51 L282.00,233.96 L282.50,234.42 L283.00,234.88 L283.50,235.33 L284.00,235.79 L284.50,236.25 L285.00,236.70 L285.50,237.16 L286.00,237.61 L286.50,238.07 L287.00,238.53 L287.50,238.98 L288.00,239.44 L288.50,239.90 L289.00,240.35 L289.50,240.81 L290.00,241.27 L290.50,241.72 L291.00,242.18 L291.50,242.64 L292.00,243.10 L292.50,243.55 L293.00,244.01 L293.50,244.47 L294.00,244.93 L294.50,245.38 L295.00,245.84 L295.50,246.30 L296.00,246.76 L296.50,247.21 L297.00,247.67 L297.50,248.13 L298.00,248.59 L298.50,249.05 L299.00,249.50 L299.50,249.96 L300.00,250.42 L300.50,250.88 L301.00,251.34 L301.50,251.80 L302.00,252.25 L302.50,252.71 L303.00,253.17 L303.50,253.63 L304.00,254.09 L304.50,254.55 L305.00,255.01 L305.50,255.47 L306.00,255.92 L306.50,256.38 L307.00,256.84 L307.50,257.30 L308.00,257.76 L308.50,258.22 L309.00,258.68 L309.50,259.14 L310.00,259.60 L310.50,260.06 L311.00,260.52 L311.50,260.98 L312.00,261.44 L312.50,261.90 L313.00,262.36 L313.50,262.82 L314.00,263.28 L314.50,263.74 L315.00,264.20 L315.50,264.66 L316.00,265.12 L316.50,265.58 L317.00,266.04 L317.50,266.50 L318.00,266.96 L318.50,267.42 L319.00,267.88 L319.50,268.34 L320.00,268.80 L320.50,269.26 L321.00,269.72 L321.50,270.19 L322.00,270.65 L322.50,271.11 L323.00,271.57 L323.50,272.03 L324.00,272.49 L324.50,272.95 L325.00,273.41 L325.50,273.88 L326.00,274.34 L326.50,274.80 L327.00,275.26 L327.50,275.72 L328.00,276.19 L328.50,276.65 L329.00,277.11 L329.50,277.57 L330.00,278.03 L330.50,278.50 L331.00,278.96 L331.50,279.42 L332.00,279.88 L332.50,280.34 L333.00,280.81 L333.50,281.27 L334.00,281.73 L334.50,282.20 L335.00,282.66 L335.50,283.12 L336.00,283.58 L336.50,284.05 L337.00,284.51 L337.50,284.97 L338.00,285.44 L338.50,285.90 L339.00,286.36 L339.50,286.83 L340.00,287.29 L340.50,287.75 L341.00,288.22 L341.50,288.68 L342.00,289.14 L342.50,289.61 L343.00,290.07 L343.50,290.53 L344.00,291.00 L344.50,291.46 L345.00,291.93 L345.50,292.39 L346.00,292.85 L346.50,293.32 L347.00,293.78 L347.50,294.25 L348.00,294.71 L348.50,295.18 L349.00,295.64 L349.50,296.11 L350.00,296.57 L350.50,297.04 L351.00,297.50 L351.50,297.97 L352.00,298.43 L352.50,298.90 L353.00,299.36 L353.50,299.83 L354.00,300.29 L354.50,300.76 L355.00,301.22 L355.50,301.69 L356.00,302.15 L356.50,302.62 L357.00,303.08 L357.50,303.55 L358.00,304.01 L358.50,304.48 L359.00,304.95 L359.50,305.41 L360.00,305.88 L360.50,306.34 L361.00,306.81 L361.50,307.28 L362.00,307.74 L362.50,308.21 L363.00,308.68 L363.50,309.14 L364.00,309.61 L364.50,310.07 L365.00,310.54 L365.50,311.01 L366.00,311.47 L366.50,311.94 L367.00,312.41 L367.50,312.88 L368.00,313.34 L368.50,313.81 L369.00,314.28 L369.50,314.74 L370.00,315.21 L370.50,315.68 L371.00,316.15 L371.50,316.61 L372.00,317.08 L372.50,317.55 L373.00,318.02 L373.50,318.48 L374.00,318.95 L374.50,319.42 L375.00,319.89 L375.50,320.36 L376.00,320.82 L376.50,321.29 L377.00,321.76 L377.50,322.23 L378.00,322.70 L378.50,323.16 L379.00,323.63 L379.50,324.10 L380.00,324.57 L380.50,325.04 L381.00,325.51 L381.50,325.98 L382.00,326.45 L382.50,326.91 L383.00,327.38 L383.50,327.85 L384.00,328.32 L384.50,328.79 L385.00,329.26 L385.50,329.73 L386.00,330.20 L386.50,330.67 L387.00,331.14 L387.50,331.61 L388.00,332.08 L388.50,332.55 L389.00,333.02 L389.50,333.49 L390.00,333.96 L390.50,334.42 L391.00,334.89 L391.50,335.36 L392.00,335.84 L392.50,336.31 L393.00,336.78 L393.50,337.25 L394.00,337.72 L394.50,338.19 L395.00,338.66 L395.50,339.13 L396.00,339.60 L396.50,340.07 L397.00,340.54 L397.50,341.01 L398.00,341.48 L398.50,341.95 L399.00,342.42 L399.50,342.89 L400.00,343.37" stroke="#ff8000" stroke-width="1.45" stroke-dasharray="7.7399 5.0111 1.9846 2.2823 1.9846 2.2823 1.9846 5.1103" stroke-dashoffset="10.70"/>
<path d="M20.00,20.40 L20.50,20.82 L21.00,21.25 L21.50,21.67 L22.00,22.10 L22.50,22.52 L23.00,22.95 L23.50,23.37 L24.00,23.80 L24.50,24.23 L25.00,24.65 L25.50,25.08 L26.00,25.50 L26.50,25.93 L27.00,26.36 L27.50,26.78 L28.00,27.21 L28.50,27.64 L29.00,28.07 L29.50,28.49 L30.00,28.92 L30.50,29.35 L31.00,29.77 L31.50,30.20 L32.00,30.63 L32.50,31.06 L33.00,31.49 L33.50,31.91 L34.00,32.34 L34.50,32.77 L35.00,33.20 L35.50,33.63 L36.00,34.06 L36.50,34.49 L37.00,34.92 L37.50,35.35 L38.00,35.77 L38.50,36.20 L39.00,36.63 L39.50,37.06 L40.00,37.49 L40.50,37.92 L41.00,38.35 L41.50,38.78 L42.00,39.21 L42.50,39.64 L43.00,40.08 L43.50,40.51 L44.00,40.94 L44.50,41.37 L45.00,41.80 L45.50,42.23 L46.00,42.66 L46.50,43.09 L47.00,43.53 L47.50,43.96 L48.00,44.39 L48.50,44.82 L49.00,45.25 L49.50,45.69 L50.00,46.12 L50.50,46.55 L51.00,46.98 L51.50,47.42 L52.00,47.85 L52.50,48.28 L53.00,48.72 L53.50,49.15 L54.00,49.58 L54.50,50.02 L55.00,50.45 L55.50,50.89 L56.00,51.32 L56.50,51.75 L57.00,52.19 L57.50,52.62 L58.00,53.06 L58.50,53.49 L59.00,53.93 L59.50,54.36 L60.00,54.80 L60.50,55.23 L61.00,55.67 L61.50,56.10 L62.00,56.54 L62.50,56.97 L63.00,57.41 L63.50,57.85 L64.00,58.28 L64.50,58.72 L65.00,59.15 L65.50,59.59 L66.00,60.03 L66.50,60.46 L67.00,60.90 L67.50,61.34 L68.00,61.78 L68.50,62.21 L69.00,62.65 L69.50,63.09 L70.00,63.53 L70.50,63.96 L71.00,64.40 L71.50,64.84 L72.00,65.28 L72.50,65.72 L73.00,66.16 L73.50,66.59 L74.00,67.03 L74.50,67.47 L75.00,67.91 L75.50,68.35 L76.00,68.79 L76.50,69.23 L77.00,69.67 L77.50,70.11 L78.00,70.55 L78.50,70.99 L79.00,71.43 L79.50,71.87 L80.00,72.31 L80.50,72.75 L81.00,73.19 L81.50,73.63 L82.00,74.07 L82.50,74.51 L83.00,74.95 L83.50,75.39 L84.00,75.84 L84.50,76.28 L85.00,76.72 L85.50,77.16 L86.00,77.60 L86.50,78.04 L87.00,78.49 L87.50,78.93 L88.00,79.37 L88.50,79.81 L89.00,80.26 L89.50,80.70 L90.00,81.14 L90.50,81.58 L91.00,82.03 L91.50,82.47 L92.00,82.91 L92.50,83.36 L93.00,83.80 L93.50,84.25 L94.00,84.69 L94.50,85.13 L95.00,85.58 L95.50,86.02 L96.00,86.47 L96.50,86.91 L97.00,87.36 L97.50,87.80 L98.00,88.25 L98.50,88.69 L99.00,89.14 L99.50,89.58 L100.00,90.03 L100.50,90.47 L101.00,90.92 L101.50,91.36 L102.00,91.81 L102.50,92.26 L103.00,92.70 L103.50,93.15 L104.00,93.60 L104.50,94.04 L105.00,94.49 L105.50,94.94 L106.00,95.38 L106.50,95.83 L107.00,96.28 L107.50,96.73 L108.00,97.17 L108.50,97.62 L109.00,98.07 L109.50,98.52 L110.00,98.96 L110.50,99.41 L111.00,99.86 L111.50,100.31 L112.00,100.76 L112.50,101.21 L113.00,101.66 L113.50,102.11 L114.00,102.55 L114.50,103.00 L115.00,103.45 L115.50,103.90 L116.00,104.35 L116.50,104.80 L117.00,105.25 L117.50,105.70 L118.00,106.15 L118.50,106.60 L119.00,107.05 L119.50,107.50 L120.00,107.95 L120.50,108.41 L121.00,108.86 L121.50,109.31 L122.00,109.76 L122.50,110.21 L123.00,110.66 L123.50,111.11 L124.00,111.56 L124.50,112.02 L125.00,112.47 L125.50,112.92 L126.00,113.37 L126.50,113.83 L127.00,114.28 L127.50,114.73 L128.00,115.18 L128.50,115.64 L129.00,116.09 L129.50,116.54 L130.00,117.00 L130.50,117.45 L131.00,117.90 L131.50,118.36 L132.00,118.81 L132.50,119.26 L133.00,119.72 L133.50,120.17 L134.00,120.63 L134.50,121.08 L135.00,121.54 L135.50,121.99 L136.00,122.45 L136.50,122.90 L137.00,123.36 L137.50,123.81 L138.00,124.27 L138.50,124.72 L139.00,125.18 L139.50,125.63 L140.00,126.09 L140.50,126.55 L141.00,127.00 L141.50,127.46 L142.00,127.91 L142.50,128.37 L143.00,128.83 L143.50,129.28 L144.00,129.74 L144.50,130.20 L145.00,130.66 L145.50,131.11 L146.00,131.57 L146.50,132.03 L147.00,132.49 L147.50,132.94 L148.00,133.40 L148.50,133.86 L149.00,134.32 L149.50,134.78 L150.00,135.24 L150.50,135.69 L151.00,136.15 L151.50,136.61 L152.00,137.07 L152.50,137.53 L153.00,137.99 L153.50,138.45 L154.00,138.91 L154.50,139.37 L155.00,139.83 L155.50,140.29 L156.00,140.75 L156.50,141.21 L157.00,141.67 L157.50,142.13 L158.00,142.59 L158.50,143.05 L159.00,143.51 L159.50,143.97 L160.00,144.43 L160.50,144.89 L161.00,145.36 L161.50,145.82 L162.00,146.28 L162.50,146.74 L163.00,147.20 L163.50,147.66 L164.00,148.13 L164.50,148.59 L165.00,149.05 L165.50,149.51 L166.00,149.98 L166.50,150.44 L167.00,150.90 L167.50,151.37 L168.00,151.83 L168.50,152.29 L169.00,152.76 L169.50,153.22 L170.00,153.68 L170.50,154.15 L171.00,154.61 L171.50,155.07 L172.00,155.54 L172.50,156.00 L173.00,156.47 L173.50,156.93 L174.00,157.40 L174.50,157.86 L175.00,158.33 L175.50,158.79 L176.00,159.26 L176.50,159.72 L177.00,160.19 L177.50,160.65 L178.00,161.12 L178.50,161.59 L179.00,162.05 L179.50,162.52 L180.00,162.98 L180.50,163.45 L181.00,163.92 L181.50,164.38 L182.00,164.85 L182.50,165.32 L183.00,165.78 L183.50,166.25 L184.00,166.72 L184.50,167.19 L185.00,167.65 L185.50,168.12 L186.00,168.59 L186.50,169.06 L187.00,169.53 L187.50,169.99 L188.00,170.46 L188.50,170.93 L189.00,171.40 L189.50,171.87 L190.00,172.34 L190.50,172.81 L191.00,173.28 L191.50,173.75 L192.00,174.21 L192.50,174.68 L193.00,175.15 L193.50,175.62 L194.00,176.09 L194.50,176.56 L195.00,177.03 L195.50,177.50 L196.00,177.98 L196.50,178.45 L197.00,178.92 L197.50,179.39 L198.00,179.86 L198.50,180.33 L199.00,180.80 L199.50,181.27 L200.00,181.74 L200.50,182.22 L201.00,182.69 L201.50,183.16 L202.00,183.63 L202.50,184.10 L203.00,184.58 L203.50,185.05 L204.00,185.52 L204.50,185.99 L205.00,186.47 L205.50,186.94 L206.00,187.41 L206.50,187.89 L207.00,188.36 L207.50,188.83 L208.00,189.31 L208.50,189.78 L209.00,190.25 L209.50,190.73 L210.00,191.20 L210.50,191.68 L211.00,192.15 L211.50,192.62 L212.00,193.10 L212.50,193.57 L213.00,194.05 L213.50,194.52 L214.00,195.00 L214.50,195.47 L215.00,195.95 L215.50,196.43 L216.00,196.90 L216.50,197.38 L217.00,197.85 L217.50,198.33 L218.00,198.80 L218.50,199.28 L219.00,199.76 L219.50,200.23 L220.00,200.71 L220.50,201.19 L221.00,201.66 L221.50,202.14 L222.00,202.62 L222.50,203.10 L223.00,203.57 L223.50,204.05 L224.00,204.53 L224.50,205.01 L225.00,205.49 L225.50,205.96 L226.00,206.44 L226.50,206.92 L227.00,207.40 L227.50,207.88 L228.00,208.36 L228.50,208.83 L229.00,209.31 L229.50,209.79 L230.00,210.27 L230.50,210.75 L231.00,211.23 L231.50,211.71 L232.00,212.19 L232.50,212.67 L233.00,213.15 L233.50,213.63 L234.00,214.11 L234.50,214.59 L235.00,215.07 L235.50,215.55 L236.00,216.03 L236.50,216.52 L237.00,217.00 L237.50,217.48 L238.00,217.96 L238.50,218.44 L239.00,218.92 L239.50,219.40 L240.00,219.89 L240.50,220.37 L241.00,220.85 L241.50,221.33 L242.00,221.82 L242.50,222.30 L243.00,222.78 L243.50,223.26 L244.00,223.75 L244.50,224.23 L245.00,224.71 L245.50,225.20 L246.00,225.68 L246.50,226.16 L247.00,226.65 L247.50,227.13 L248.00,227.61 L248.50,228.10 L249.00,228.58 L249.50,229.07 L250.00,229.55 L250.50,230.04 L251.00,230.52 L251.50,231.01 L252.00,231.49 L252.50,231.98 L253.00,232.46 L253.50,232.95 L254.00,233.43 L254.50,233.92 L255.00,234.40 L255.50,234.89 L256.00,235.38 L256.50,235.86 L257.00,236.35 L257.50,236.84 L258.00,237.32 L258.50,237.81 L259.00,238.30 L259.50,238.78 L260.00,239.27 L260.50,239.76 L261.00,240.24 L261.50,240.73 L262.00,241.22 L262.50,241.71 L263.00,242.19 L263.50,242.68 L264.00,243.17 L264.50,243.66 L265.00,244.15 L265.50,244.64 L266.00,245.12 L266.50,245.61 L267.00,246.10 L267.50,246.59 L268.00,247.08 L268.50,247.57 L269.00,248.06 L269.50,248.55 L270.00,249.04 L270.50,249.53 L271.00,250.02 L271.50,250.51 L272.00,251.00 L272.50,251.49 L273.00,251.98 L273.50,252.47 L274.00,252.96 L274.50,253.45 L275.00,253.94 L275.50,254.43 L276.00,254.93 L276.50,255.42 L277.00,255.91 L277.50,256.40 L278.00,256.89 L278.50,257.38 L279.00,257.88 L279.50,258.37 L280.00,258.86 L280.50,259.35 L281.00,259.85 L281.50,260.34 L282.00,260.83 L282.50,261.32 L283.00,261.82 L283.50,262.31 L284.00,262.80 L284.50,263.30 L285.00,263.79 L285.50,264.28 L286.00,264.78 L286.50,265.27 L287.00,265.77 L287.50,266.26 L288.00,266.76 L288.50,267.25 L289.00,267.74 L289.50,268.24 L290.00,268.73 L290.50,269.23 L291.00,269.72 L291.50,270.22 L292.00,270.72 L292.50,271.21 L293.00,271.71 L293.50,272.20 L294.00,272.70 L294.50,273.19 L295.00,273.69 L295.50,274.19 L296.00,274.68 L296.50,275.18 L297.00,275.68 L297.50,276.17 L298.00,276.67 L298.50,277.17 L299.00,277.67 L299.50,278.16 L300.00,278.66 L300.50,279.16 L301.00,279.66 L301.50,280.15 L302.00,280.65 L302.50,281.15 L303.00,281.65 L303.50,282.15 L304.00,282.64 L304.50,283.14 L305.00,283.64 L305.50,284.14 L306.00,284.64 L306.50,285.14 L307.00,285.64 L307.50,286.14 L308.00,286.64 L308.50,287.14 L309.00,287.64 L309.50,288.14 L310.00,288.64 L310.50,289.14 L311.00,289.64 L311.50,290.14 L312.00,290.64 L312.50,291.14 L313.00,291.64 L313.50,292.14 L314.00,292.64 L314.50,293.14 L315.00,293.65 L315.50,294.15 L316.00,294.65 L316.50,295.15 L317.00,295.65 L317.50,296.15 L318.00,296.66 L318.50,297.16 L319.00,297.66 L319.50,298.16 L320.00,298.67 L320.50,299.17 L321.00,299.67 L321.50,300.18 L322.00,300.68 L322.50,301.18 L323.00,301.69 L323.50,302.19 L324.00,302.69 L324.50,303.20 L325.00,303.70 L325.50,304.21 L326.00,304.71 L326.50,305.21 L327.00,305.72 L327.50,306.22 L328.00,306.73 L328.50,307.23 L329.00,307.74 L329.50,308.24 L330.00,308.75 L330.50,309.25 L331.00,309.76 L331.50,310.27 L332.00,310.77 L332.50,311.28 L333.00,311.78 L333.50,312.29 L334.00,312.80 L334.50,313.30 L335.00,313.81 L335.50,314.32 L336.00,314.82 L336.50,315.33 L337.00,315.84 L337.50,316.34 L338.00,316.85 L338.50,317.36 L339.00,317.87 L339.50,318.37 L340.00,318.88 L340.50,319.39 L341.00,319.90 L341.50,320.41 L342.00,320.92 L342.50,321.42 L343.00,321.93 L343.50,322.44 L344.00,322.95 L344.50,323.46 L345.00,323.97 L345.50,324.48 L346.00,324.99 L346.50,325.50 L347.00,326.01 L347.50,326.52 L348.00,327.03 L348.50,327.54 L349.00,328.05 L349.50,328.56 L350.00,329.07 L350.50,329.58 L351.00,330.09 L351.50,330.60 L352.00,331.11 L352.50,331.62 L353.00,332.13 L353.50,332.65 L354.00,333.16 L354.50,333.67 L355.00,334.18 L355.50,334.69 L356.00,335.20 L356.50,335.72 L357.00,336.23 L357.50,336.74 L358.00,337.25 L358.50,337.77 L359.00,338.28 L359.50,338.79 L360.00,339.31 L360.50,339.82 L361.00,340.33 L361.50,340.85 L362.00,341.36 L362.50,341.87 L363.00,342.39 L363.50,342.90 L364.00,343.42 L364.50,343.93 L365.00,344.44 L365.50,344.96 L366.00,345.47 L366.50,345.99 L367.00,346.50 L367.50,347.02 L368.00,347.53 L368.50,348.05 L369.00,348.56 L369.50,349.08 L370.00,349.60 L370.50,350.11 L371.00,350.63 L371.50,351.14 L372.00,351.66 L372.50,352.18 L373.00,352.69 L373.50,353.21 L374.00,353.73 L374.50,354.24 L375.00,354.76 L375.50,355.28 L376.00,355.79 L376.50,356.31 L377.00,356.83 L377.50,357.35 L378.00,357.86 L378.50,358.38 L379.00,358.90 L379.50,359.42 L380.00,359.94 L380.50,360.46 L381.00,360.97 L381.50,361.49 L382.00,362.01 L382.50,362.53 L383.00,363.05 L383.50,363.57 L384.00,364.09 L384.50,364.61 L385.00,365.13 L385.50,365.65 L386.00,366.17 L386.50,366.69 L387.00,367.21 L387.50,367.73 L388.00,368.25 L388.50,368.77 L389.00,369.29 L389.50,369.81 L390.00,370.33 L390.50,370.85 L391.00,371.37 L391.50,371.89 L392.00,372.42 L392.50,372.94 L393.00,373.46 L393.50,373.98 L394.00,374.50 L394.50,375.02 L395.00,375.55 L395.50,376.07 L396.00,376.59 L396.50,377.11 L397.00,377.64 L397.50,378.16 L398.00,378.68 L398.50,379.21 L399.00,379.73 L399.50,380.25 L400.00,380.78" stroke="#ff8000" stroke-width="1.45" stroke-dasharray="7.7275 5.003 1.9814 2.2786 1.9814 2.2786 1.9814 5.1021" stroke-dashoffset="10.59"/>
<path d="M68.64,18.75 L68.74,18.75 L68.84,18.75 L68.93,18.76 L69.03,18.77 L69.13,18.78 L69.23,18.79 L69.33,18.79 L69.45,18.80 L69.57,18.81 L69.71,18.81 L69.85,18.82 L70.01,18.82 L70.18,18.83 L70.37,18.84 L70.57,18.85 L70.79,18.87 L71.02,18.89 L71.26,18.91 L71.52,18.94 L71.80,18.97 L72.09,19.01 L72.39,19.05 L72.71,19.11 L73.04,19.18 L73.38,19.25 L73.74,19.34 L74.11,19.43 L74.49,19.53 L74.88,19.65 L75.29,19.77 L75.71,19.91 L76.14,20.05 L76.58,20.21 L77.03,20.37 L77.49,20.55 L77.97,20.73 L78.45,20.93 L78.95,21.13 L79.45,21.35 L79.97,21.57 L80.49,21.81 L81.03,22.05 L81.58,22.30 L82.14,22.56 L82.70,22.84 L83.28,23.12 L83.87,23.41 L84.46,23.71 L85.07,24.02 L85.69,24.34 L86.31,24.66 L86.95,25.00 L87.60,25.35 L88.25,25.70 L88.92,26.07 L89.59,26.44 L90.27,26.82 L90.96,27.21 L91.66,27.62 L92.37,28.02 L93.09,28.44 L93.82,28.87 L94.56,29.31 L95.30,29.75 L96.06,30.20 L96.82,30.67 L97.59,31.14 L98.37,31.62 L99.16,32.11 L99.95,32.60 L100.76,33.11 L101.57,33.62 L102.39,34.14 L103.22,34.67 L104.06,35.21 L104.90,35.76 L105.75,36.32 L106.61,36.88 L107.48,37.45 L108.36,38.03 L109.24,38.62 L110.13,39.22 L111.03,39.82 L111.93,40.43 L112.85,41.06 L113.76,41.69 L114.69,42.32 L115.62,42.97 L116.56,43.63 L117.50,44.29 L118.46,44.96 L119.41,45.64 L120.38,46.33 L121.35,47.02 L122.32,47.72 L123.31,48.43 L124.30,49.15 L125.29,49.88 L126.29,50.61 L127.30,51.35 L128.31,52.10 L129.33,52.85 L130.35,53.62 L131.38,54.39 L132.41,55.16 L133.45,55.95 L134.50,56.74 L135.54,57.54 L136.60,58.34 L137.66,59.16 L138.72,59.97 L139.79,60.80 L140.87,61.63 L141.94,62.47 L143.03,63.32 L144.11,64.17 L145.21,65.03 L146.30,65.90 L147.40,66.77 L148.51,67.65 L149.62,68.53 L150.73,69.42 L151.84,70.32 L152.96,71.22 L154.09,72.13 L155.22,73.04 L156.35,73.96 L157.48,74.89 L158.62,75.82 L159.76,76.75 L160.90,77.69 L162.05,78.64 L163.20,79.59 L164.35,80.55 L165.51,81.52 L166.67,82.48 L167.83,83.46 L168.99,84.44 L170.16,85.42 L171.33,86.41 L172.50,87.40 L173.67,88.40 L174.85,89.40 L176.02,90.41 L177.20,91.42 L178.38,92.43 L179.56,93.45 L180.75,94.47 L181.93,95.50 L183.12,96.53 L184.31,97.57 L185.50,98.61 L186.69,99.65 L187.88,100.70 L189.07,101.75 L190.27,102.81 L191.46,103.86 L192.66,104.92 L193.85,105.99 L195.05,107.06 L196.25,108.13 L197.44,109.20 L198.64,110.28 L199.83,111.37 L201.03,112.45 L202.22,113.54 L203.42,114.63 L204.61,115.73 L205.80,116.83 L206.99,117.93 L208.18,119.04 L209.37,120.14 L210.56,121.25 L211.74,122.37 L212.93,123.48 L214.11,124.60 L215.29,125.72 L216.47,126.85 L217.65,127.97 L218.82,129.10 L220.00,130.23 L221.17,131.36 L222.34,132.50 L223.50,133.63 L224.67,134.77 L225.83,135.91 L226.99,137.05 L228.14,138.19 L229.30,139.34 L230.45,140.48 L231.60,141.63 L232.74,142.78 L233.88,143.93 L235.02,145.07 L236.16,146.23 L237.29,147.38 L238.42,148.53 L239.54,149.68 L240.66,150.83 L241.78,151.99 L242.89,153.14 L244.00,154.30 L245.11,155.45 L246.21,156.60 L247.31,157.75 L248.40,158.90 L249.50,160.06 L250.58,161.21 L251.67,162.35 L252.75,163.50 L253.82,164.65 L254.89,165.79 L255.96,166.94 L257.02,168.08 L258.08,169.22 L259.14,170.36 L260.19,171.50 L261.23,172.64 L262.27,173.77 L263.31,174.90 L264.34,176.04 L265.36,177.16 L266.38,178.29 L267.39,179.42 L268.40,180.54 L269.41,181.66 L270.41,182.77 L271.40,183.89 L272.39,185.00 L273.37,186.11 L274.34,187.22 L275.32,188.32 L276.28,189.42 L277.24,190.52 L278.19,191.61 L279.14,192.71 L280.08,193.79 L281.01,194.88 L281.94,195.96 L282.86,197.04 L283.77,198.11 L284.68,199.18 L285.58,200.25 L286.48,201.31 L287.36,202.37 L288.25,203.43 L289.12,204.48 L289.99,205.52 L290.85,206.57 L291.70,207.60 L292.55,208.64 L293.39,209.66 L294.22,210.69 L295.04,211.71 L295.86,212.72 L296.68,213.73 L297.48,214.73 L298.28,215.73 L299.07,216.72 L299.85,217.70 L300.63,218.68 L301.40,219.66 L302.16,220.63 L302.91,221.59 L303.66,222.55 L304.40,223.50 L305.13,224.45 L305.86,225.38 L306.57,226.32 L307.28,227.24 L307.98,228.17 L308.67,229.08 L309.36,229.99 L310.03,230.89 L310.70,231.78 L311.36,232.67 L312.02,233.55 L312.66,234.43 L313.30,235.30 L313.93,236.16 L314.55,237.01 L315.16,237.86 L315.76,238.70 L316.35,239.53 L316.94,240.36 L317.52,241.18 L318.09,241.99 L318.65,242.79 L319.20,243.59 L319.74,244.38 L320.28,245.16 L320.80,245.93 L321.32,246.70 L321.83,247.46 L322.33,248.21 L322.81,248.96 L323.29,249.70 L323.76,250.43 L324.22,251.15 L324.67,251.86 L325.11,252.57 L325.54,253.27 L325.96,253.96 L326.38,254.65 L326.78,255.32 L327.17,255.99 L327.55,256.65 L327.93,257.30 L328.29,257.95 L328.64,258.58 L328.99,259.21 L329.32,259.83 L329.65,260.44 L329.97,261.04 L330.28,261.63 L330.59,262.21 L330.88,262.78 L331.17,263.35 L331.44,263.90 L331.71,264.45 L331.97,264.99 L332.23,265.52 L332.47,266.04 L332.71,266.55 L332.93,267.05 L333.15,267.55 L333.37,268.03 L333.57,268.51 L333.76,268.98 L333.95,269.44 L334.13,269.89 L334.30,270.34 L334.46,270.78 L334.61,271.21 L334.76,271.63 L334.89,272.05 L335.02,272.46 L335.14,272.87 L335.25,273.26 L335.35,273.66 L335.45,274.05 L335.53,274.43 L335.60,274.81 L335.66,275.19 L335.71,275.56 L335.75,275.93 L335.78,276.30 L335.80,276.66 L335.80,277.03 L335.79,277.39 L335.76,277.75 L335.72,278.11 L335.65,278.47 L335.57,278.83 L335.47,279.19 L335.35,279.54 L335.20,279.88 L335.04,280.22 L334.85,280.56 L334.64,280.88 L334.41,281.19 L334.15,281.49 L333.88,281.77 L333.58,282.04 L333.27,282.29 L332.94,282.52 L332.60,282.74 L332.25,282.93 L331.88,283.11 L331.50,283.27 L331.11,283.40 L330.71,283.53 L330.31,283.63 L329.89,283.71 L329.48,283.78 L329.05,283.83 L328.62,283.87 L328.18,283.89 L327.73,283.90 L327.28,283.89 L326.83,283.86 L326.37,283.83 L325.90,283.78 L325.43,283.72 L324.95,283.64 L324.46,283.55 L323.97,283.46 L323.47,283.34 L322.97,283.22 L322.46,283.09 L321.94,282.94 L321.42,282.78 L320.89,282.62 L320.35,282.44 L319.81,282.24 L319.25,282.04 L318.70,281.83 L318.13,281.60 L317.56,281.37 L316.98,281.12 L316.40,280.86 L315.81,280.59 L315.21,280.32 L314.60,280.03 L313.99,279.73 L313.36,279.43 L312.73,279.11 L312.09,278.79 L311.45,278.46 L310.79,278.12 L310.13,277.77 L309.46,277.40 L308.78,277.04 L308.10,276.66 L307.41,276.27 L306.71,275.87 L306.00,275.47 L305.28,275.05 L304.56,274.63 L303.83,274.19 L303.09,273.75 L302.34,273.30 L301.59,272.84 L300.83,272.37 L300.06,271.89 L299.28,271.40 L298.50,270.90 L297.71,270.40 L296.91,269.88 L296.11,269.36 L295.30,268.82 L294.48,268.28 L293.65,267.73 L292.82,267.17 L291.98,266.60 L291.13,266.02 L290.28,265.43 L289.42,264.84 L288.56,264.23 L287.69,263.62 L286.81,262.99 L285.92,262.36 L285.03,261.72 L284.13,261.08 L283.23,260.42 L282.32,259.76 L281.40,259.08 L280.48,258.40 L279.55,257.71 L278.62,257.01 L277.68,256.31 L276.73,255.59 L275.78,254.87 L274.82,254.14 L273.86,253.40 L272.89,252.66 L271.92,251.90 L270.94,251.14 L269.96,250.37 L268.97,249.59 L267.97,248.81 L266.97,248.02 L265.97,247.22 L264.96,246.41 L263.95,245.59 L262.93,244.77 L261.90,243.94 L260.88,243.11 L259.84,242.26 L258.80,241.41 L257.76,240.55 L256.72,239.69 L255.67,238.82 L254.61,237.94 L253.55,237.05 L252.49,236.16 L251.42,235.26 L250.35,234.36 L249.28,233.45 L248.20,232.53 L247.12,231.60 L246.04,230.67 L244.95,229.73 L243.86,228.79 L242.76,227.84 L241.66,226.88 L240.56,225.92 L239.46,224.95 L238.35,223.98 L237.24,223.00 L236.13,222.02 L235.02,221.02 L233.90,220.03 L232.78,219.03 L231.66,218.02 L230.54,217.00 L229.41,215.99 L228.28,214.96 L227.15,213.93 L226.02,212.90 L224.88,211.86 L223.75,210.82 L222.61,209.77 L221.47,208.72 L220.33,207.66 L219.19,206.60 L218.05,205.53 L216.90,204.46 L215.75,203.38 L214.61,202.30 L213.46,201.22 L212.31,200.13 L211.16,199.04 L210.01,197.94 L208.86,196.84 L207.71,195.74 L206.56,194.63 L205.40,193.52 L204.25,192.40 L203.10,191.29 L201.95,190.17 L200.79,189.04 L199.64,187.91 L198.49,186.78 L197.33,185.65 L196.18,184.52 L195.03,183.38 L193.87,182.24 L192.72,181.09 L191.57,179.95 L190.42,178.80 L189.27,177.65 L188.12,176.49 L186.97,175.34 L185.82,174.18 L184.68,173.02 L183.53,171.86 L182.39,170.70 L181.25,169.54 L180.11,168.37 L178.97,167.21 L177.83,166.04 L176.69,164.87 L175.55,163.70 L174.42,162.53 L173.29,161.36 L172.16,160.19 L171.03,159.01 L169.90,157.84 L168.78,156.66 L167.66,155.49 L166.54,154.32 L165.42,153.14 L164.30,151.97 L163.19,150.79 L162.08,149.62 L160.97,148.44 L159.87,147.27 L158.77,146.09 L157.67,144.92 L156.57,143.74 L155.48,142.57 L154.39,141.40 L153.31,140.23 L152.22,139.06 L151.14,137.89 L150.07,136.72 L148.99,135.55 L147.93,134.38 L146.86,133.22 L145.80,132.06 L144.74,130.89 L143.69,129.73 L142.64,128.58 L141.59,127.42 L140.55,126.26 L139.52,125.11 L138.48,123.96 L137.45,122.81 L136.43,121.66 L135.41,120.52 L134.40,119.38 L133.39,118.24 L132.38,117.10 L131.39,115.96 L130.39,114.83 L129.40,113.70 L128.42,112.57 L127.44,111.45 L126.47,110.33 L125.50,109.21 L124.54,108.10 L123.58,106.98 L122.63,105.88 L121.68,104.77 L120.75,103.67 L119.81,102.57 L118.89,101.48 L117.96,100.38 L117.05,99.30 L116.14,98.21 L115.24,97.14 L114.34,96.06 L113.45,94.99 L112.56,93.93 L111.68,92.87 L110.81,91.81 L109.94,90.76 L109.08,89.71 L108.23,88.67 L107.38,87.63 L106.54,86.60 L105.70,85.58 L104.88,84.56 L104.05,83.54 L103.24,82.53 L102.43,81.53 L101.63,80.53 L100.84,79.53 L100.05,78.54 L99.27,77.56 L98.50,76.59 L97.73,75.61 L96.97,74.65 L96.22,73.69 L95.48,72.74 L94.74,71.79 L94.01,70.85 L93.29,69.92 L92.58,68.99 L91.87,68.07 L91.17,67.16 L90.48,66.25 L89.80,65.35 L89.12,64.45 L88.45,63.56 L87.79,62.68 L87.14,61.81 L86.50,60.94 L85.86,60.08 L85.24,59.23 L84.62,58.38 L84.01,57.54 L83.41,56.71 L82.82,55.88 L82.24,55.06 L81.66,54.25 L81.10,53.44 L80.55,52.64 L80.00,51.85 L79.47,51.06 L78.94,50.28 L78.43,49.51 L77.92,48.74 L77.43,47.99 L76.94,47.24 L76.47,46.49 L76.00,45.76 L75.54,45.03 L75.10,44.31 L74.66,43.60 L74.23,42.89 L73.82,42.19 L73.41,41.50 L73.01,40.82 L72.62,40.15 L72.25,39.48 L71.88,38.82 L71.53,38.17 L71.18,37.53 L70.84,36.90 L70.52,36.27 L70.20,35.65 L69.90,35.04 L69.61,34.44 L69.32,33.85 L69.05,33.27 L68.79,32.69 L68.55,32.12 L68.32,31.55 L68.10,31.00 L67.90,30.45 L67.71,29.91 L67.53,29.38 L67.37,28.86 L67.21,28.35 L67.08,27.84 L66.95,27.35 L66.84,26.86 L66.74,26.38 L66.65,25.92 L66.58,25.46 L66.53,25.02 L66.48,24.58 L66.45,24.16 L66.44,23.75 L66.43,23.35 L66.44,22.96 L66.47,22.58 L66.51,22.22 L66.55,21.88 L66.61,21.55 L66.68,21.24 L66.76,20.94 L66.84,20.66 L66.94,20.40 L67.04,20.15 L67.15,19.93 L67.27,19.72 L67.39,19.54 L67.52,19.37 L67.65,19.23 L67.78,19.11 L67.91,19.00 L68.04,18.92 L68.17,18.86 L68.30,18.81 L68.42,18.78 L68.53,18.76 L68.64,18.75Z" stroke="#20f830" stroke-width="1.8" stroke-dasharray="9.000 6.409"/>
<path d="M124.23,71.26 L124.13,71.42 L124.01,71.57 L123.88,71.70 L123.74,71.81 L123.61,71.90 L123.48,71.96 L123.36,72.01 L123.26,72.04 L123.17,72.06 L123.10,72.06 L123.04,72.04 L123.01,72.02 L123.00,71.99 L123.01,71.96 L123.04,71.92 L123.09,71.87 L123.15,71.82 L123.24,71.78 L123.34,71.73 L123.46,71.68 L123.60,71.63 L123.75,71.58 L123.92,71.55 L124.10,71.52 L124.29,71.50 L124.50,71.48 L124.71,71.48 L124.94,71.48 L125.17,71.49 L125.42,71.51 L125.67,71.53 L125.94,71.56 L126.21,71.60 L126.49,71.65 L126.78,71.70 L127.08,71.76 L127.39,71.83 L127.70,71.91 L128.02,71.99 L128.35,72.08 L128.68,72.18 L129.02,72.29 L129.37,72.40 L129.72,72.52 L130.08,72.65 L130.45,72.79 L130.82,72.93 L131.20,73.08 L131.58,73.24 L131.97,73.41 L132.37,73.58 L132.77,73.76 L133.17,73.95 L133.59,74.14 L134.00,74.34 L134.43,74.55 L134.85,74.76 L135.29,74.98 L135.73,75.20 L136.17,75.43 L136.62,75.67 L137.08,75.91 L137.54,76.16 L138.00,76.42 L138.47,76.68 L138.95,76.95 L139.43,77.22 L139.91,77.50 L140.40,77.79 L140.90,78.08 L141.40,78.38 L141.90,78.68 L142.41,78.99 L142.92,79.30 L143.44,79.62 L143.96,79.95 L144.49,80.28 L145.02,80.62 L145.56,80.96 L146.10,81.31 L146.64,81.67 L147.19,82.03 L147.74,82.39 L148.30,82.76 L148.86,83.13 L149.43,83.51 L150.00,83.90 L150.57,84.29 L151.15,84.68 L151.74,85.08 L152.32,85.48 L152.92,85.89 L153.51,86.30 L154.11,86.72 L154.71,87.14 L155.32,87.57 L155.93,88.00 L156.55,88.43 L157.17,88.87 L157.79,89.31 L158.42,89.76 L159.04,90.22 L159.68,90.68 L160.31,91.14 L160.95,91.61 L161.59,92.08 L162.23,92.56 L162.88,93.05 L163.53,93.53 L164.18,94.03 L164.83,94.52 L165.49,95.03 L166.15,95.53 L166.81,96.05 L167.47,96.56 L168.14,97.08 L168.81,97.61 L169.48,98.14 L170.15,98.67 L170.82,99.21 L171.50,99.75 L172.18,100.30 L172.86,100.85 L173.54,101.40 L174.23,101.96 L174.91,102.52 L175.60,103.09 L176.29,103.66 L176.98,104.24 L177.67,104.81 L178.37,105.40 L179.06,105.98 L179.76,106.57 L180.46,107.17 L181.16,107.77 L181.86,108.37 L182.56,108.97 L183.26,109.58 L183.97,110.19 L184.67,110.81 L185.38,111.42 L186.08,112.05 L186.79,112.67 L187.50,113.30 L188.21,113.93 L188.92,114.56 L189.64,115.19 L190.35,115.83 L191.07,116.47 L191.78,117.11 L192.50,117.75 L193.22,118.39 L193.94,119.04 L194.65,119.69 L195.37,120.34 L196.10,121.00 L196.82,121.65 L197.54,122.31 L198.26,122.97 L198.98,123.63 L199.71,124.30 L200.43,124.96 L201.15,125.63 L201.88,126.29 L202.60,126.96 L203.33,127.63 L204.05,128.31 L204.77,128.98 L205.50,129.65 L206.22,130.33 L206.95,131.00 L207.67,131.68 L208.40,132.36 L209.12,133.04 L209.84,133.72 L210.57,134.40 L211.29,135.08 L212.01,135.77 L212.74,136.45 L213.46,137.14 L214.18,137.82 L214.90,138.51 L215.62,139.19 L216.33,139.88 L217.05,140.57 L217.77,141.25 L218.48,141.94 L219.20,142.63 L219.91,143.32 L220.62,144.01 L221.33,144.70 L222.04,145.39 L222.75,146.08 L223.46,146.76 L224.16,147.45 L224.87,148.14 L225.57,148.83 L226.27,149.52 L226.97,150.21 L227.66,150.90 L228.36,151.59 L229.05,152.27 L229.74,152.96 L230.43,153.65 L231.12,154.34 L231.80,155.02 L232.48,155.71 L233.16,156.39 L233.84,157.08 L234.51,157.76 L235.19,158.45 L235.85,159.13 L236.52,159.82 L237.18,160.50 L237.84,161.18 L238.50,161.87 L239.15,162.55 L239.80,163.23 L240.45,163.91 L241.09,164.59 L241.73,165.27 L242.36,165.95 L243.00,166.63 L243.62,167.30 L244.25,167.98 L244.87,168.65 L245.49,169.33 L246.10,170.00 L246.71,170.67 L247.31,171.34 L247.92,172.01 L248.51,172.68 L249.11,173.35 L249.69,174.01 L250.28,174.67 L250.86,175.34 L251.44,176.00 L252.01,176.66 L252.57,177.31 L253.14,177.97 L253.70,178.62 L254.25,179.28 L254.80,179.93 L255.34,180.57 L255.88,181.22 L256.42,181.86 L256.95,182.51 L257.47,183.15 L257.99,183.78 L258.51,184.42 L259.02,185.05 L259.53,185.68 L260.03,186.31 L260.52,186.94 L261.02,187.56 L261.50,188.18 L261.99,188.80 L262.46,189.41 L262.94,190.02 L263.40,190.63 L263.87,191.23 L264.32,191.83 L264.78,192.43 L265.22,193.02 L265.67,193.61 L266.11,194.20 L266.54,194.79 L266.97,195.36 L267.39,195.94 L267.81,196.51 L268.22,197.08 L268.63,197.65 L269.03,198.21 L269.43,198.77 L269.82,199.32 L270.21,199.87 L270.59,200.41 L270.97,200.96 L271.34,201.49 L271.71,202.03 L272.07,202.55 L272.42,203.08 L272.77,203.60 L273.11,204.11 L273.45,204.63 L273.79,205.13 L274.11,205.64 L274.43,206.13 L274.75,206.63 L275.06,207.12 L275.36,207.60 L275.66,208.08 L275.96,208.55 L276.24,209.02 L276.52,209.49 L276.80,209.95 L277.07,210.41 L277.33,210.86 L277.59,211.30 L277.84,211.74 L278.09,212.18 L278.34,212.60 L278.58,213.02 L278.81,213.44 L279.05,213.85 L279.27,214.25 L279.50,214.65 L279.72,215.04 L279.93,215.42 L280.15,215.80 L280.35,216.17 L280.56,216.53 L280.76,216.89 L280.96,217.24 L281.15,217.59 L281.34,217.93 L281.52,218.26 L281.70,218.59 L281.88,218.91 L282.05,219.22 L282.22,219.53 L282.39,219.84 L282.55,220.13 L282.71,220.42 L282.86,220.71 L283.02,220.99 L283.17,221.26 L283.32,221.53 L283.47,221.79 L283.62,222.04 L283.76,222.29 L283.90,222.54 L284.04,222.78 L284.18,223.02 L284.32,223.25 L284.46,223.48 L284.60,223.71 L284.73,223.93 L284.86,224.16 L284.99,224.38 L285.12,224.60 L285.23,224.83 L285.34,225.05 L285.43,225.27 L285.52,225.50 L285.60,225.73 L285.67,225.96 L285.72,226.19 L285.77,226.42 L285.80,226.65 L285.82,226.89 L285.82,227.12 L285.82,227.36 L285.79,227.60 L285.75,227.84 L285.70,228.08 L285.63,228.31 L285.54,228.55 L285.44,228.78 L285.31,229.00 L285.17,229.22 L285.02,229.44 L284.85,229.64 L284.67,229.84 L284.47,230.03 L284.26,230.20 L284.04,230.36 L283.81,230.51 L283.57,230.65 L283.32,230.77 L283.06,230.87 L282.80,230.97 L282.53,231.05 L282.25,231.11 L281.97,231.16 L281.69,231.20 L281.40,231.23 L281.11,231.24 L280.82,231.24 L280.53,231.23 L280.23,231.20 L279.93,231.17 L279.63,231.13 L279.33,231.08 L279.02,231.03 L278.71,230.97 L278.40,230.90 L278.08,230.83 L277.76,230.74 L277.44,230.66 L277.11,230.56 L276.78,230.46 L276.45,230.35 L276.11,230.24 L275.77,230.12 L275.43,229.99 L275.08,229.86 L274.73,229.72 L274.37,229.58 L274.01,229.43 L273.65,229.27 L273.28,229.11 L272.90,228.94 L272.53,228.76 L272.15,228.58 L271.76,228.39 L271.37,228.20 L270.98,228.00 L270.58,227.79 L270.18,227.58 L269.77,227.36 L269.36,227.14 L268.94,226.91 L268.52,226.67 L268.10,226.43 L267.67,226.19 L267.24,225.94 L266.80,225.68 L266.35,225.42 L265.91,225.15 L265.46,224.88 L265.00,224.60 L264.54,224.32 L264.07,224.03 L263.61,223.73 L263.13,223.43 L262.65,223.13 L262.17,222.81 L261.69,222.50 L261.19,222.18 L260.70,221.85 L260.20,221.52 L259.70,221.18 L259.19,220.84 L258.68,220.49 L258.16,220.13 L257.64,219.78 L257.12,219.41 L256.59,219.04 L256.06,218.67 L255.52,218.29 L254.98,217.90 L254.44,217.51 L253.89,217.12 L253.34,216.72 L252.78,216.32 L252.22,215.91 L251.66,215.49 L251.09,215.07 L250.52,214.65 L249.95,214.22 L249.37,213.78 L248.79,213.34 L248.21,212.90 L247.62,212.45 L247.03,211.99 L246.44,211.53 L245.84,211.07 L245.24,210.60 L244.64,210.13 L244.03,209.65 L243.42,209.16 L242.81,208.67 L242.20,208.18 L241.58,207.68 L240.96,207.18 L240.34,206.67 L239.72,206.16 L239.09,205.64 L238.46,205.12 L237.82,204.60 L237.19,204.07 L236.55,203.53 L235.91,203.00 L235.27,202.45 L234.62,201.91 L233.98,201.35 L233.33,200.80 L232.68,200.24 L232.02,199.68 L231.37,199.11 L230.71,198.54 L230.05,197.96 L229.39,197.38 L228.73,196.80 L228.06,196.21 L227.39,195.62 L226.72,195.03 L226.05,194.43 L225.38,193.83 L224.71,193.22 L224.03,192.62 L223.36,192.00 L222.68,191.39 L222.00,190.77 L221.32,190.15 L220.64,189.52 L219.95,188.89 L219.27,188.26 L218.58,187.63 L217.90,186.99 L217.21,186.35 L216.52,185.70 L215.83,185.06 L215.14,184.41 L214.45,183.75 L213.76,183.10 L213.06,182.44 L212.37,181.78 L211.67,181.11 L210.98,180.45 L210.28,179.78 L209.59,179.11 L208.89,178.43 L208.20,177.76 L207.50,177.08 L206.80,176.40 L206.10,175.72 L205.41,175.03 L204.71,174.34 L204.01,173.65 L203.31,172.96 L202.61,172.27 L201.92,171.58 L201.22,170.88 L200.52,170.18 L199.82,169.48 L199.12,168.78 L198.43,168.08 L197.73,167.38 L197.03,166.67 L196.33,165.97 L195.64,165.26 L194.94,164.55 L194.25,163.84 L193.55,163.13 L192.86,162.42 L192.16,161.70 L191.47,160.99 L190.78,160.28 L190.08,159.56 L189.39,158.84 L188.70,158.13 L188.01,157.41 L187.32,156.69 L186.64,155.97 L185.95,155.26 L185.27,154.54 L184.58,153.82 L183.90,153.10 L183.22,152.38 L182.54,151.66 L181.86,150.94 L181.18,150.22 L180.50,149.50 L179.83,148.78 L179.16,148.06 L178.49,147.34 L177.82,146.62 L177.15,145.90 L176.48,145.18 L175.82,144.46 L175.15,143.74 L174.49,143.03 L173.84,142.31 L173.18,141.59 L172.53,140.88 L171.87,140.16 L171.22,139.45 L170.58,138.73 L169.93,138.02 L169.29,137.31 L168.65,136.60 L168.01,135.89 L167.38,135.18 L166.74,134.47 L166.11,133.76 L165.49,133.06 L164.86,132.35 L164.24,131.65 L163.62,130.95 L163.00,130.25 L162.39,129.55 L161.78,128.85 L161.17,128.15 L160.57,127.46 L159.97,126.77 L159.37,126.08 L158.77,125.39 L158.18,124.70 L157.59,124.02 L157.01,123.33 L156.43,122.65 L155.85,121.97 L155.27,121.30 L154.70,120.62 L154.13,119.95 L153.57,119.28 L153.00,118.61 L152.45,117.95 L151.89,117.29 L151.34,116.63 L150.80,115.97 L150.25,115.31 L149.71,114.66 L149.18,114.01 L148.65,113.37 L148.12,112.72 L147.60,112.08 L147.08,111.44 L146.56,110.81 L146.05,110.18 L145.54,109.55 L145.04,108.92 L144.54,108.30 L144.05,107.68 L143.56,107.07 L143.07,106.45 L142.59,105.84 L142.11,105.24 L141.64,104.64 L141.17,104.04 L140.71,103.44 L140.25,102.85 L139.79,102.26 L139.34,101.68 L138.90,101.10 L138.46,100.52 L138.02,99.95 L137.59,99.38 L137.16,98.81 L136.74,98.25 L136.32,97.69 L135.91,97.14 L135.50,96.59 L135.10,96.05 L134.70,95.51 L134.31,94.97 L133.92,94.44 L133.54,93.91 L133.16,93.38 L132.79,92.86 L132.43,92.35 L132.07,91.83 L131.72,91.32 L131.37,90.82 L131.03,90.32 L130.70,89.82 L130.37,89.33 L130.05,88.84 L129.74,88.35 L129.43,87.87 L129.13,87.39 L128.83,86.92 L128.55,86.45 L128.26,85.99 L127.99,85.53 L127.72,85.07 L127.46,84.62 L127.20,84.17 L126.96,83.73 L126.71,83.29 L126.48,82.86 L126.25,82.43 L126.03,82.01 L125.82,81.59 L125.61,81.18 L125.41,80.77 L125.22,80.36 L125.03,79.97 L124.85,79.57 L124.68,79.19 L124.52,78.80 L124.36,78.43 L124.21,78.05 L124.07,77.69 L123.93,77.33 L123.80,76.97 L123.68,76.62 L123.57,76.28 L123.46,75.94 L123.37,75.61 L123.29,75.28 L123.21,74.96 L123.15,74.65 L123.09,74.34 L123.04,74.04 L123.01,73.74 L122.98,73.46 L122.96,73.18 L122.95,72.91 L122.96,72.64 L122.97,72.39 L122.99,72.14 L123.02,71.91 L123.06,71.68 L123.12,71.47 L123.18,71.27 L123.25,71.08 L123.33,70.90 L123.41,70.75 L123.50,70.60 L123.59,70.48 L123.68,70.37 L123.77,70.28 L123.86,70.22 L123.95,70.17 L124.04,70.14 L124.12,70.14 L124.20,70.15 L124.27,70.19 L124.33,70.25 L124.37,70.33 L124.41,70.43 L124.42,70.54 L124.42,70.67 L124.40,70.81 L124.36,70.96 L124.31,71.11 L124.23,71.26Z" stroke="#20f830" stroke-width="1.8" stroke-dasharray="9.000 6.163"/>
<path d="M66.96,17.09 L67.13,16.94 L67.31,16.80 L67.50,16.67 L67.70,16.55 L67.90,16.44 L68.12,16.34 L68.35,16.26 L68.58,16.18 L68.83,16.11 L69.08,16.05 L69.34,16.00 L69.62,15.96 L69.90,15.93 L70.19,15.91 L70.49,15.90 L70.80,15.90 L71.13,15.91 L71.46,15.92 L71.80,15.95 L72.15,15.99 L72.51,16.04 L72.88,16.09 L73.26,16.16 L73.65,16.24 L74.05,16.33 L74.46,16.42 L74.88,16.53 L75.30,16.65 L75.74,16.77 L76.19,16.91 L76.65,17.06 L77.11,17.22 L77.59,17.38 L78.07,17.56 L78.57,17.75 L79.07,17.94 L79.58,18.15 L80.11,18.36 L80.64,18.59 L81.18,18.83 L81.73,19.07 L82.29,19.33 L82.86,19.59 L83.43,19.87 L84.02,20.15 L84.61,20.44 L85.22,20.75 L85.83,21.06 L86.45,21.38 L87.08,21.72 L87.72,22.06 L88.37,22.41 L89.02,22.77 L89.69,23.14 L90.36,23.52 L91.04,23.91 L91.73,24.31 L92.43,24.72 L93.14,25.14 L93.85,25.56 L94.57,26.00 L95.31,26.44 L96.04,26.90 L96.79,27.36 L97.55,27.83 L98.31,28.31 L99.08,28.80 L99.86,29.30 L100.65,29.81 L101.44,30.33 L102.24,30.86 L103.05,31.39 L103.87,31.93 L104.69,32.49 L105.52,33.05 L106.36,33.62 L107.21,34.20 L108.06,34.78 L108.92,35.38 L109.79,35.98 L110.66,36.59 L111.55,37.22 L112.43,37.84 L113.33,38.48 L114.23,39.13 L115.14,39.78 L116.05,40.44 L116.98,41.11 L117.90,41.79 L118.84,42.48 L119.78,43.17 L120.73,43.87 L121.68,44.58 L122.64,45.30 L123.60,46.02 L124.57,46.76 L125.55,47.50 L126.53,48.25 L127.52,49.00 L128.52,49.76 L129.52,50.53 L130.52,51.31 L131.53,52.10 L132.55,52.89 L133.57,53.69 L134.60,54.49 L135.63,55.31 L136.66,56.13 L137.70,56.95 L138.75,57.79 L139.80,58.63 L140.86,59.48 L141.92,60.33 L142.98,61.19 L144.05,62.06 L145.13,62.93 L146.20,63.81 L147.29,64.70 L148.37,65.59 L149.46,66.49 L150.56,67.39 L151.65,68.30 L152.76,69.22 L153.86,70.14 L154.97,71.07 L156.08,72.01 L157.20,72.95 L158.32,73.89 L159.44,74.84 L160.57,75.80 L161.70,76.76 L162.83,77.73 L163.97,78.70 L165.10,79.68 L166.24,80.66 L167.39,81.65 L168.53,82.65 L169.68,83.64 L170.83,84.65 L171.99,85.65 L173.14,86.67 L174.30,87.68 L175.46,88.71 L176.62,89.73 L177.78,90.76 L178.95,91.80 L180.11,92.83 L181.28,93.88 L182.45,94.93 L183.62,95.98 L184.79,97.03 L185.97,98.09 L187.14,99.15 L188.32,100.22 L189.50,101.29 L190.67,102.36 L191.85,103.44 L193.03,104.52 L194.21,105.60 L195.39,106.69 L196.57,107.78 L197.75,108.87 L198.93,109.97 L200.11,111.07 L201.29,112.17 L202.48,113.27 L203.66,114.38 L204.84,115.49 L206.02,116.60 L207.20,117.71 L208.38,118.83 L209.56,119.95 L210.73,121.07 L211.91,122.19 L213.09,123.32 L214.26,124.44 L215.44,125.57 L216.61,126.70 L217.78,127.84 L218.95,128.97 L220.12,130.10 L221.29,131.24 L222.45,132.38 L223.62,133.52 L224.78,134.66 L225.94,135.80 L227.10,136.94 L228.26,138.08 L229.41,139.23 L230.56,140.37 L231.71,141.51 L232.86,142.66 L234.00,143.81 L235.14,144.95 L236.28,146.10 L237.42,147.25 L238.55,148.39 L239.68,149.54 L240.81,150.69 L241.94,151.83 L243.06,152.98 L244.18,154.12 L245.29,155.27 L246.40,156.42 L247.51,157.56 L248.61,158.70 L249.71,159.85 L250.81,160.99 L251.90,162.13 L252.99,163.27 L254.07,164.41 L255.15,165.55 L256.23,166.69 L257.30,167.82 L258.37,168.96 L259.43,170.09 L260.49,171.22 L261.54,172.35 L262.59,173.48 L263.63,174.60 L264.67,175.73 L265.70,176.85 L266.73,177.97 L267.76,179.09 L268.77,180.20 L269.79,181.31 L270.79,182.42 L271.80,183.53 L272.79,184.64 L273.78,185.74 L274.77,186.84 L275.75,187.94 L276.72,189.03 L277.69,190.12 L278.65,191.21 L279.60,192.30 L280.55,193.38 L281.50,194.46 L282.43,195.53 L283.36,196.60 L284.29,197.67 L285.20,198.73 L286.11,199.79 L287.02,200.85 L287.92,201.90 L288.81,202.95 L289.69,204.00 L290.57,205.04 L291.44,206.07 L292.30,207.11 L293.15,208.13 L294.00,209.16 L294.84,210.17 L295.68,211.19 L296.50,212.20 L297.32,213.20 L298.13,214.20 L298.93,215.20 L299.73,216.19 L300.52,217.17 L301.30,218.15 L302.07,219.13 L302.84,220.10 L303.59,221.06 L304.34,222.02 L305.08,222.97 L305.81,223.92 L306.54,224.86 L307.26,225.80 L307.96,226.73 L308.66,227.65 L309.35,228.57 L310.04,229.48 L310.71,230.39 L311.38,231.29 L312.03,232.18 L312.68,233.07 L313.32,233.95 L313.95,234.83 L314.57,235.69 L315.19,236.56 L315.79,237.41 L316.39,238.26 L316.97,239.10 L317.55,239.94 L318.12,240.77 L318.68,241.59 L319.23,242.40 L319.77,243.21 L320.30,244.01 L320.82,244.80 L321.34,245.59 L321.84,246.37 L322.33,247.14 L322.82,247.90 L323.29,248.66 L323.76,249.41 L324.22,250.15 L324.66,250.88 L325.10,251.61 L325.53,252.32 L325.95,253.03 L326.35,253.74 L326.75,254.43 L327.14,255.12 L327.52,255.80 L327.89,256.47 L328.25,257.13 L328.60,257.78 L328.94,258.43 L329.27,259.06 L329.59,259.69 L329.90,260.31 L330.20,260.93 L330.49,261.53 L330.77,262.13 L331.04,262.71 L331.30,263.29 L331.54,263.86 L331.78,264.42 L332.01,264.97 L332.23,265.51 L332.44,266.05 L332.64,266.57 L332.83,267.09 L333.01,267.60 L333.18,268.09 L333.33,268.58 L333.48,269.06 L333.62,269.53 L333.75,270.00 L333.86,270.45 L333.97,270.89 L334.07,271.32 L334.15,271.75 L334.23,272.16 L334.30,272.57 L334.35,272.97 L334.40,273.35 L334.43,273.73 L334.46,274.10 L334.47,274.46 L334.48,274.81 L334.47,275.15 L334.45,275.47 L334.43,275.79 L334.39,276.11 L334.34,276.41 L334.29,276.70 L334.22,276.98 L334.14,277.25 L334.05,277.51 L333.95,277.76 L333.85,278.00 L333.73,278.24 L333.60,278.46 L333.46,278.67 L333.31,278.87 L333.15,279.06 L332.98,279.25 L332.80,279.42 L332.61,279.58 L332.41,279.73 L332.20,279.87 L331.98,280.01 L331.75,280.13 L331.51,280.24 L331.26,280.34 L331.00,280.43 L330.73,280.52 L330.45,280.59 L330.16,280.65 L329.86,280.70 L329.55,280.74 L329.23,280.77 L328.90,280.80 L328.56,280.81 L328.22,280.81 L327.86,280.80 L327.49,280.78 L327.11,280.75 L326.72,280.71 L326.33,280.66 L325.92,280.60 L325.50,280.53 L325.08,280.45 L324.64,280.36 L324.20,280.26 L323.74,280.15 L323.28,280.03 L322.81,279.90 L322.32,279.76 L321.83,279.60 L321.33,279.44 L320.82,279.27 L320.30,279.09 L319.78,278.90 L319.24,278.70 L318.69,278.49 L318.14,278.27 L317.57,278.03 L317.00,277.79 L316.42,277.54 L315.83,277.28 L315.23,277.01 L314.62,276.73 L314.01,276.44 L313.38,276.14 L312.75,275.83 L312.11,275.51 L311.46,275.18 L310.80,274.84 L310.13,274.49 L309.45,274.13 L308.77,273.76 L308.08,273.38 L307.38,272.99 L306.67,272.60 L305.95,272.19 L305.23,271.77 L304.50,271.34 L303.76,270.91 L303.01,270.46 L302.25,270.01 L301.49,269.54 L300.72,269.07 L299.94,268.59 L299.16,268.09 L298.36,267.59 L297.56,267.08 L296.76,266.56 L295.94,266.03 L295.12,265.50 L294.29,264.95 L293.45,264.39 L292.61,263.83 L291.76,263.25 L290.90,262.67 L290.04,262.08 L289.17,261.48 L288.29,260.87 L287.40,260.25 L286.51,259.62 L285.62,258.99 L284.71,258.35 L283.80,257.69 L282.89,257.03 L281.96,256.36 L281.03,255.69 L280.10,255.00 L279.16,254.31 L278.21,253.60 L277.26,252.89 L276.30,252.17 L275.34,251.45 L274.37,250.71 L273.40,249.97 L272.42,249.22 L271.43,248.46 L270.44,247.70 L269.44,246.92 L268.44,246.14 L267.43,245.35 L266.42,244.56 L265.41,243.75 L264.38,242.94 L263.36,242.12 L262.33,241.30 L261.29,240.46 L260.25,239.62 L259.21,238.78 L258.16,237.92 L257.11,237.06 L256.05,236.19 L254.99,235.32 L253.92,234.44 L252.85,233.55 L251.78,232.65 L250.70,231.75 L249.62,230.84 L248.53,229.93 L247.45,229.01 L246.35,228.08 L245.26,227.15 L244.16,226.21 L243.06,225.26 L241.95,224.31 L240.84,223.36 L239.73,222.39 L238.62,221.42 L237.50,220.45 L236.38,219.47 L235.26,218.48 L234.13,217.49 L233.01,216.50 L231.88,215.50 L230.74,214.49 L229.61,213.48 L228.47,212.46 L227.33,211.44 L226.19,210.41 L225.05,209.38 L223.90,208.34 L222.76,207.30 L221.61,206.26 L220.46,205.21 L219.31,204.15 L218.16,203.09 L217.00,202.03 L215.85,200.96 L214.69,199.89 L213.53,198.82 L212.38,197.74 L211.22,196.65 L210.06,195.57 L208.90,194.48 L207.73,193.38 L206.57,192.28 L205.41,191.18 L204.25,190.08 L203.08,188.97 L201.92,187.86 L200.76,186.75 L199.59,185.63 L198.43,184.51 L197.27,183.39 L196.10,182.26 L194.94,181.14 L193.78,180.01 L192.62,178.87 L191.46,177.74 L190.30,176.60 L189.14,175.46 L187.98,174.32 L186.82,173.18 L185.66,172.03 L184.51,170.88 L183.35,169.73 L182.20,168.58 L181.05,167.43 L179.90,166.28 L178.75,165.12 L177.60,163.97 L176.45,162.81 L175.31,161.65 L174.17,160.49 L173.03,159.33 L171.89,158.17 L170.75,157.01 L169.61,155.85 L168.48,154.69 L167.35,153.53 L166.22,152.36 L165.10,151.20 L163.97,150.04 L162.85,148.88 L161.73,147.71 L160.62,146.55 L159.51,145.39 L158.40,144.23 L157.29,143.07 L156.18,141.91 L155.08,140.75 L153.99,139.59 L152.89,138.43 L151.80,137.27 L150.71,136.12 L149.63,134.96 L148.55,133.81 L147.47,132.65 L146.40,131.50 L145.33,130.35 L144.27,129.20 L143.20,128.06 L142.15,126.91 L141.09,125.77 L140.05,124.63 L139.00,123.49 L137.96,122.35 L136.93,121.22 L135.90,120.08 L134.87,118.95 L133.85,117.83 L132.83,116.70 L131.82,115.58 L130.81,114.46 L129.81,113.34 L128.82,112.22 L127.83,111.11 L126.84,110.00 L125.86,108.89 L124.89,107.79 L123.92,106.69 L122.96,105.59 L122.00,104.50 L121.05,103.41 L120.10,102.32 L119.16,101.24 L118.23,100.16 L117.30,99.08 L116.38,98.01 L115.47,96.94 L114.56,95.88 L113.65,94.82 L112.76,93.76 L111.87,92.71 L110.98,91.66 L110.11,90.62 L109.24,89.58 L108.37,88.55 L107.52,87.52 L106.67,86.50 L105.82,85.48 L104.99,84.47 L104.16,83.46 L103.34,82.45 L102.52,81.46 L101.71,80.46 L100.91,79.47 L100.12,78.49 L99.33,77.51 L98.55,76.54 L97.78,75.58 L97.02,74.62 L96.26,73.66 L95.51,72.71 L94.77,71.77 L94.04,70.83 L93.31,69.90 L92.60,68.98 L91.89,68.06 L91.18,67.15 L90.49,66.24 L89.81,65.34 L89.13,64.45 L88.46,63.56 L87.80,62.68 L87.14,61.81 L86.50,60.94 L85.86,60.08 L85.24,59.23 L84.62,58.38 L84.01,57.54 L83.41,56.71 L82.82,55.88 L82.24,55.06 L81.66,54.25 L81.10,53.44 L80.55,52.64 L80.00,51.85 L79.47,51.06 L78.94,50.28 L78.43,49.51 L77.92,48.74 L77.43,47.99 L76.94,47.24 L76.47,46.49 L76.00,45.76 L75.54,45.03 L75.10,44.31 L74.66,43.60 L74.23,42.89 L73.82,42.19 L73.41,41.50 L73.01,40.82 L72.62,40.15 L72.25,39.48 L71.88,38.82 L71.53,38.17 L71.18,37.53 L70.84,36.90 L70.52,36.27 L70.20,35.65 L69.90,35.04 L69.61,34.44 L69.32,33.85 L69.05,33.27 L68.79,32.69 L68.53,32.13 L68.29,31.57 L68.06,31.02 L67.84,30.48 L67.63,29.95 L67.43,29.42 L67.24,28.91 L67.06,28.41 L66.89,27.91 L66.73,27.43 L66.58,26.95 L66.44,26.48 L66.31,26.03 L66.19,25.58 L66.08,25.14 L65.98,24.71 L65.89,24.29 L65.81,23.88 L65.74,23.49 L65.68,23.10 L65.64,22.71 L65.60,22.34 L65.57,21.98 L65.56,21.63 L65.55,21.29 L65.55,20.96 L65.56,20.64 L65.59,20.33 L65.62,20.03 L65.66,19.74 L65.72,19.47 L65.78,19.20 L65.85,18.94 L65.94,18.69 L66.03,18.45 L66.13,18.23 L66.25,18.01 L66.37,17.81 L66.50,17.61 L66.65,17.43 L66.80,17.26 L66.96,17.09Z" stroke="#0000ff" stroke-width="2" stroke-dasharray="2.000 4.810" stroke-dashoffset="-0.5"/>
<path d="M121.25,68.34 L121.34,68.26 L121.43,68.18 L121.53,68.11 L121.63,68.05 L121.74,67.99 L121.86,67.94 L121.98,67.89 L122.11,67.85 L122.25,67.82 L122.39,67.79 L122.54,67.77 L122.69,67.76 L122.85,67.75 L123.02,67.75 L123.19,67.75 L123.37,67.76 L123.55,67.78 L123.74,67.80 L123.94,67.82 L124.14,67.86 L124.35,67.90 L124.57,67.94 L124.79,68.00 L125.02,68.05 L125.25,68.12 L125.49,68.19 L125.73,68.26 L125.98,68.34 L126.24,68.43 L126.50,68.53 L126.77,68.63 L127.05,68.73 L127.33,68.84 L127.61,68.96 L127.90,69.08 L128.20,69.21 L128.51,69.35 L128.82,69.49 L129.13,69.64 L129.45,69.79 L129.78,69.95 L130.11,70.11 L130.45,70.28 L130.79,70.46 L131.14,70.64 L131.50,70.82 L131.86,71.02 L132.23,71.21 L132.60,71.42 L132.98,71.63 L133.36,71.84 L133.75,72.06 L134.14,72.28 L134.54,72.51 L134.95,72.75 L135.36,72.99 L135.78,73.24 L136.20,73.49 L136.63,73.75 L137.06,74.01 L137.50,74.28 L137.94,74.55 L138.39,74.83 L138.84,75.11 L139.30,75.40 L139.77,75.69 L140.24,75.99 L140.71,76.29 L141.19,76.60 L141.68,76.92 L142.16,77.24 L142.66,77.56 L143.16,77.89 L143.66,78.22 L144.17,78.56 L144.69,78.91 L145.21,79.26 L145.73,79.61 L146.26,79.97 L146.79,80.33 L147.33,80.70 L147.87,81.07 L148.42,81.45 L148.97,81.83 L149.52,82.22 L150.08,82.61 L150.64,83.01 L151.21,83.41 L151.78,83.82 L152.36,84.23 L152.94,84.65 L153.52,85.07 L154.11,85.50 L154.70,85.93 L155.30,86.36 L155.90,86.80 L156.50,87.24 L157.11,87.69 L157.72,88.14 L158.34,88.60 L158.95,89.06 L159.58,89.53 L160.20,90.00 L160.83,90.48 L161.46,90.96 L162.09,91.44 L162.72,91.93 L163.36,92.43 L164.00,92.93 L164.65,93.43 L165.29,93.94 L165.94,94.46 L166.59,94.97 L167.25,95.50 L167.90,96.02 L168.56,96.55 L169.22,97.09 L169.89,97.63 L170.55,98.17 L171.22,98.72 L171.89,99.27 L172.56,99.83 L173.23,100.39 L173.91,100.96 L174.59,101.52 L175.27,102.10 L175.95,102.67 L176.63,103.25 L177.31,103.84 L178.00,104.43 L178.69,105.02 L179.37,105.61 L180.06,106.21 L180.76,106.81 L181.45,107.42 L182.14,108.03 L182.84,108.64 L183.53,109.26 L184.23,109.88 L184.93,110.50 L185.63,111.13 L186.33,111.76 L187.03,112.39 L187.74,113.02 L188.44,113.66 L189.15,114.30 L189.85,114.94 L190.56,115.59 L191.27,116.23 L191.98,116.88 L192.69,117.53 L193.40,118.18 L194.11,118.84 L194.83,119.50 L195.54,120.16 L196.25,120.82 L196.97,121.48 L197.68,122.15 L198.40,122.81 L199.12,123.48 L199.83,124.15 L200.55,124.83 L201.27,125.50 L201.99,126.17 L202.70,126.85 L203.42,127.53 L204.14,128.20 L204.86,128.88 L205.58,129.56 L206.30,130.24 L207.02,130.93 L207.74,131.61 L208.46,132.29 L209.18,132.98 L209.90,133.66 L210.62,134.35 L211.34,135.03 L212.06,135.72 L212.77,136.41 L213.49,137.10 L214.21,137.79 L214.93,138.48 L215.64,139.17 L216.36,139.86 L217.07,140.55 L217.79,141.24 L218.50,141.93 L219.21,142.62 L219.92,143.31 L220.63,144.00 L221.34,144.69 L222.05,145.38 L222.75,146.07 L223.46,146.76 L224.16,147.45 L224.87,148.14 L225.57,148.83 L226.27,149.52 L226.97,150.21 L227.66,150.90 L228.36,151.59 L229.05,152.27 L229.74,152.96 L230.43,153.65 L231.12,154.34 L231.80,155.02 L232.48,155.71 L233.16,156.39 L233.84,157.08 L234.51,157.76 L235.19,158.45 L235.86,159.13 L236.52,159.82 L237.18,160.50 L237.84,161.18 L238.50,161.86 L239.15,162.55 L239.80,163.23 L240.45,163.91 L241.09,164.58 L241.73,165.26 L242.37,165.94 L243.01,166.62 L243.63,167.29 L244.26,167.97 L244.88,168.64 L245.50,169.31 L246.12,169.98 L246.73,170.65 L247.34,171.32 L247.94,171.99 L248.54,172.65 L249.14,173.32 L249.73,173.98 L250.31,174.64 L250.90,175.30 L251.48,175.96 L252.05,176.62 L252.62,177.27 L253.19,177.92 L253.75,178.58 L254.31,179.22 L254.86,179.87 L255.41,180.52 L255.95,181.16 L256.49,181.80 L257.03,182.44 L257.56,183.08 L258.08,183.71 L258.60,184.34 L259.12,184.97 L259.63,185.60 L260.13,186.22 L260.63,186.84 L261.13,187.46 L261.62,188.08 L262.11,188.69 L262.59,189.30 L263.07,189.91 L263.54,190.51 L264.01,191.11 L264.47,191.71 L264.93,192.31 L265.38,192.90 L265.83,193.49 L266.27,194.07 L266.71,194.65 L267.14,195.23 L267.57,195.80 L267.99,196.37 L268.41,196.94 L268.82,197.50 L269.23,198.06 L269.63,198.62 L270.02,199.17 L270.41,199.72 L270.79,200.27 L271.17,200.81 L271.55,201.34 L271.91,201.88 L272.28,202.40 L272.63,202.93 L272.98,203.45 L273.33,203.96 L273.67,204.48 L274.00,204.98 L274.33,205.49 L274.65,205.99 L274.97,206.48 L275.28,206.97 L275.58,207.46 L275.88,207.94 L276.18,208.41 L276.46,208.88 L276.74,209.35 L277.02,209.81 L277.29,210.27 L277.55,210.72 L277.81,211.17 L278.06,211.61 L278.30,212.05 L278.55,212.48 L278.78,212.91 L279.01,213.33 L279.24,213.74 L279.46,214.15 L279.67,214.55 L279.88,214.95 L280.09,215.34 L280.29,215.73 L280.48,216.11 L280.67,216.48 L280.85,216.85 L281.03,217.21 L281.21,217.56 L281.37,217.91 L281.54,218.25 L281.70,218.59 L281.85,218.92 L282.00,219.25 L282.14,219.57 L282.28,219.88 L282.41,220.18 L282.54,220.48 L282.66,220.78 L282.78,221.07 L282.89,221.35 L283.00,221.62 L283.10,221.89 L283.20,222.15 L283.30,222.41 L283.39,222.66 L283.48,222.90 L283.57,223.14 L283.65,223.37 L283.73,223.59 L283.80,223.81 L283.87,224.03 L283.94,224.23 L284.00,224.44 L284.06,224.64 L284.11,224.83 L284.15,225.02 L284.19,225.20 L284.22,225.38 L284.25,225.56 L284.27,225.73 L284.28,225.90 L284.29,226.06 L284.29,226.22 L284.28,226.38 L284.27,226.53 L284.25,226.68 L284.22,226.82 L284.19,226.96 L284.14,227.10 L284.10,227.23 L284.04,227.37 L283.97,227.49 L283.90,227.62 L283.81,227.75 L283.71,227.87 L283.61,227.99 L283.49,228.11 L283.37,228.22 L283.23,228.32 L283.09,228.42 L282.94,228.52 L282.78,228.60 L282.62,228.68 L282.44,228.76 L282.26,228.82 L282.07,228.88 L281.87,228.93 L281.67,228.97 L281.45,229.01 L281.24,229.04 L281.01,229.06 L280.78,229.07 L280.54,229.07 L280.30,229.07 L280.05,229.05 L279.79,229.04 L279.53,229.01 L279.27,228.98 L279.00,228.95 L278.72,228.91 L278.43,228.86 L278.14,228.80 L277.85,228.74 L277.55,228.68 L277.24,228.60 L276.93,228.52 L276.61,228.44 L276.29,228.34 L275.96,228.25 L275.63,228.14 L275.29,228.03 L274.95,227.91 L274.60,227.79 L274.24,227.66 L273.88,227.53 L273.51,227.38 L273.14,227.24 L272.77,227.08 L272.39,226.92 L272.00,226.76 L271.61,226.58 L271.21,226.40 L270.81,226.22 L270.40,226.03 L269.99,225.83 L269.57,225.63 L269.15,225.42 L268.72,225.20 L268.29,224.98 L267.86,224.76 L267.41,224.52 L266.97,224.28 L266.52,224.04 L266.06,223.79 L265.60,223.53 L265.14,223.27 L264.67,223.00 L264.19,222.72 L263.72,222.44 L263.23,222.15 L262.75,221.86 L262.26,221.56 L261.76,221.26 L261.26,220.95 L260.75,220.63 L260.25,220.31 L259.73,219.99 L259.22,219.65 L258.69,219.31 L258.17,218.97 L257.64,218.62 L257.11,218.27 L256.57,217.91 L256.03,217.54 L255.48,217.17 L254.94,216.79 L254.38,216.41 L253.83,216.02 L253.27,215.63 L252.70,215.23 L252.14,214.82 L251.57,214.41 L250.99,214.00 L250.41,213.58 L249.83,213.15 L249.25,212.72 L248.66,212.29 L248.07,211.85 L247.47,211.40 L246.88,210.95 L246.28,210.50 L245.67,210.04 L245.06,209.57 L244.45,209.10 L243.84,208.63 L243.23,208.15 L242.61,207.66 L241.99,207.17 L241.36,206.68 L240.73,206.18 L240.10,205.68 L239.47,205.17 L238.84,204.65 L238.20,204.14 L237.56,203.62 L236.92,203.09 L236.27,202.56 L235.62,202.03 L234.97,201.49 L234.32,200.94 L233.67,200.40 L233.01,199.84 L232.35,199.29 L231.69,198.73 L231.03,198.16 L230.36,197.60 L229.70,197.03 L229.03,196.45 L228.36,195.87 L227.69,195.29 L227.01,194.70 L226.34,194.11 L225.66,193.51 L224.98,192.92 L224.30,192.31 L223.62,191.71 L222.93,191.10 L222.25,190.49 L221.56,189.87 L220.88,189.25 L220.19,188.63 L219.50,188.01 L218.81,187.38 L218.12,186.75 L217.42,186.11 L216.73,185.48 L216.03,184.83 L215.34,184.19 L214.64,183.54 L213.94,182.90 L213.24,182.24 L212.55,181.59 L211.85,180.93 L211.15,180.27 L210.44,179.61 L209.74,178.94 L209.04,178.28 L208.34,177.61 L207.64,176.93 L206.93,176.26 L206.23,175.58 L205.53,174.90 L204.82,174.22 L204.12,173.54 L203.42,172.86 L202.71,172.17 L202.01,171.48 L201.31,170.79 L200.60,170.10 L199.90,169.40 L199.20,168.71 L198.50,168.01 L197.79,167.31 L197.09,166.61 L196.39,165.91 L195.69,165.20 L194.99,164.50 L194.29,163.79 L193.59,163.09 L192.90,162.38 L192.20,161.67 L191.50,160.96 L190.81,160.25 L190.11,159.53 L189.42,158.82 L188.72,158.11 L188.03,157.39 L187.34,156.68 L186.65,155.96 L185.96,155.24 L185.28,154.53 L184.59,153.81 L183.91,153.09 L183.22,152.37 L182.54,151.65 L181.86,150.93 L181.18,150.21 L180.51,149.50 L179.83,148.78 L179.16,148.06 L178.49,147.34 L177.82,146.62 L177.15,145.90 L176.48,145.18 L175.82,144.46 L175.15,143.74 L174.49,143.03 L173.84,142.31 L173.18,141.59 L172.53,140.88 L171.87,140.16 L171.22,139.45 L170.58,138.73 L169.93,138.02 L169.29,137.31 L168.65,136.60 L168.01,135.89 L167.38,135.18 L166.74,134.47 L166.11,133.76 L165.49,133.06 L164.86,132.35 L164.24,131.65 L163.62,130.95 L163.00,130.25 L162.39,129.55 L161.78,128.85 L161.17,128.15 L160.57,127.46 L159.97,126.77 L159.37,126.08 L158.77,125.39 L158.18,124.70 L157.59,124.02 L157.01,123.33 L156.43,122.65 L155.85,121.97 L155.27,121.30 L154.70,120.62 L154.13,119.95 L153.57,119.28 L153.00,118.61 L152.45,117.95 L151.89,117.29 L151.34,116.63 L150.80,115.97 L150.25,115.31 L149.71,114.66 L149.18,114.01 L148.65,113.37 L148.12,112.72 L147.60,112.08 L147.08,111.44 L146.56,110.81 L146.05,110.18 L145.54,109.55 L145.04,108.92 L144.54,108.30 L144.05,107.68 L143.56,107.07 L143.07,106.45 L142.59,105.84 L142.11,105.24 L141.64,104.64 L141.17,104.04 L140.71,103.44 L140.25,102.85 L139.79,102.26 L139.34,101.68 L138.90,101.10 L138.46,100.52 L138.02,99.95 L137.59,99.38 L137.16,98.81 L136.74,98.25 L136.32,97.69 L135.91,97.14 L135.50,96.59 L135.10,96.05 L134.70,95.51 L134.31,94.97 L133.92,94.44 L133.54,93.91 L133.16,93.39 L132.79,92.87 L132.42,92.35 L132.06,91.84 L131.70,91.33 L131.35,90.83 L131.00,90.34 L130.66,89.84 L130.33,89.36 L130.00,88.87 L129.67,88.40 L129.35,87.92 L129.04,87.45 L128.73,86.99 L128.42,86.53 L128.13,86.08 L127.83,85.63 L127.55,85.18 L127.26,84.74 L126.99,84.31 L126.72,83.88 L126.45,83.45 L126.19,83.04 L125.94,82.62 L125.69,82.21 L125.45,81.81 L125.21,81.41 L124.98,81.02 L124.76,80.63 L124.54,80.25 L124.32,79.87 L124.12,79.50 L123.92,79.13 L123.72,78.77 L123.53,78.41 L123.34,78.06 L123.17,77.72 L122.99,77.38 L122.83,77.05 L122.67,76.72 L122.51,76.39 L122.36,76.08 L122.22,75.77 L122.09,75.46 L121.95,75.16 L121.83,74.87 L121.71,74.58 L121.60,74.29 L121.49,74.02 L121.39,73.74 L121.30,73.48 L121.21,73.22 L121.13,72.96 L121.05,72.72 L120.98,72.47 L120.92,72.24 L120.86,72.01 L120.81,71.78 L120.77,71.56 L120.73,71.35 L120.69,71.14 L120.67,70.94 L120.65,70.74 L120.63,70.55 L120.63,70.37 L120.62,70.19 L120.63,70.02 L120.64,69.86 L120.66,69.70 L120.68,69.54 L120.71,69.39 L120.74,69.25 L120.78,69.12 L120.83,68.99 L120.89,68.86 L120.95,68.75 L121.01,68.64 L121.09,68.53 L121.16,68.43 L121.25,68.34Z" stroke="#0000ff" stroke-width="2" stroke-dasharray="2.000 4.785" stroke-dashoffset="-0.5"/>
<path d="M62.50,17.60 L62.61,17.51 L62.73,17.42 L62.86,17.34 L63.00,17.28 L63.15,17.22 L63.30,17.17 L63.47,17.13 L63.64,17.11 L63.82,17.09 L64.02,17.08 L64.22,17.08 L64.43,17.09 L64.65,17.10 L64.88,17.13 L65.12,17.16 L65.37,17.21 L65.63,17.26 L65.90,17.32 L66.18,17.39 L66.47,17.47 L66.77,17.56 L67.08,17.66 L67.40,17.77 L67.73,17.88 L68.07,18.01 L68.42,18.14 L68.78,18.28 L69.15,18.44 L69.53,18.60 L69.92,18.77 L70.32,18.95 L70.72,19.14 L71.14,19.34 L71.57,19.54 L72.00,19.76 L72.45,19.99 L72.91,20.22 L73.37,20.46 L73.84,20.71 L74.33,20.98 L74.82,21.25 L75.32,21.52 L75.84,21.81 L76.36,22.11 L76.89,22.41 L77.43,22.73 L77.98,23.05 L78.53,23.38 L79.10,23.72 L79.68,24.07 L80.26,24.43 L80.86,24.79 L81.46,25.17 L82.07,25.55 L82.69,25.94 L83.32,26.34 L83.96,26.75 L84.61,27.16 L85.26,27.59 L85.92,28.02 L86.60,28.46 L87.28,28.91 L87.97,29.37 L88.67,29.84 L89.37,30.31 L90.09,30.79 L90.81,31.28 L91.54,31.78 L92.28,32.29 L93.03,32.80 L93.78,33.33 L94.55,33.86 L95.32,34.39 L96.10,34.94 L96.88,35.49 L97.68,36.05 L98.48,36.62 L99.29,37.20 L100.11,37.78 L100.94,38.37 L101.77,38.97 L102.61,39.58 L103.46,40.19 L104.31,40.81 L105.17,41.44 L106.04,42.08 L106.92,42.72 L107.80,43.37 L108.69,44.02 L109.59,44.69 L110.49,45.36 L111.40,46.04 L112.32,46.72 L113.24,47.41 L114.17,48.11 L115.11,48.81 L116.05,49.53 L117.00,50.24 L117.96,50.97 L118.92,51.70 L119.89,52.44 L120.86,53.18 L121.84,53.93 L122.82,54.69 L123.82,55.45 L124.81,56.22 L125.82,56.99 L126.83,57.77 L127.84,58.56 L128.86,59.35 L129.89,60.14 L130.92,60.95 L131.95,61.76 L132.99,62.57 L134.04,63.39 L135.09,64.22 L136.15,65.05 L137.21,65.88 L138.27,66.72 L139.34,67.57 L140.42,68.42 L141.50,69.28 L142.58,70.14 L143.67,71.01 L144.76,71.88 L145.86,72.76 L146.96,73.64 L148.06,74.52 L149.17,75.42 L150.28,76.31 L151.40,77.21 L152.52,78.11 L153.64,79.02 L154.77,79.94 L155.90,80.85 L157.03,81.78 L158.17,82.70 L159.31,83.63 L160.45,84.56 L161.60,85.50 L162.74,86.44 L163.90,87.39 L165.05,88.34 L166.21,89.29 L167.36,90.25 L168.52,91.21 L169.69,92.17 L170.85,93.14 L172.02,94.11 L173.19,95.08 L174.36,96.06 L175.53,97.04 L176.71,98.03 L177.88,99.01 L179.06,100.00 L180.24,101.00 L181.42,101.99 L182.60,102.99 L183.78,103.99 L184.96,105.00 L186.15,106.00 L187.33,107.01 L188.52,108.02 L189.70,109.04 L190.89,110.05 L192.08,111.07 L193.26,112.09 L194.45,113.11 L195.64,114.14 L196.82,115.16 L198.01,116.19 L199.20,117.22 L200.39,118.25 L201.57,119.29 L202.76,120.32 L203.94,121.36 L205.13,122.40 L206.31,123.44 L207.49,124.48 L208.67,125.53 L209.85,126.57 L211.03,127.62 L212.20,128.67 L213.38,129.71 L214.55,130.76 L215.73,131.81 L216.90,132.87 L218.06,133.92 L219.23,134.97 L220.40,136.02 L221.56,137.08 L222.72,138.13 L223.88,139.19 L225.03,140.24 L226.18,141.30 L227.33,142.35 L228.48,143.41 L229.63,144.46 L230.77,145.52 L231.91,146.58 L233.04,147.63 L234.17,148.69 L235.30,149.74 L236.43,150.80 L237.55,151.85 L238.67,152.90 L239.78,153.96 L240.90,155.01 L242.00,156.06 L243.11,157.11 L244.21,158.16 L245.30,159.21 L246.39,160.26 L247.48,161.30 L248.57,162.35 L249.65,163.39 L250.72,164.43 L251.79,165.47 L252.86,166.51 L253.92,167.54 L254.98,168.58 L256.03,169.61 L257.08,170.64 L258.12,171.67 L259.15,172.69 L260.19,173.71 L261.21,174.74 L262.24,175.75 L263.25,176.77 L264.26,177.78 L265.27,178.80 L266.27,179.80 L267.26,180.81 L268.25,181.81 L269.23,182.81 L270.21,183.81 L271.18,184.80 L272.15,185.79 L273.11,186.78 L274.06,187.76 L275.00,188.74 L275.94,189.72 L276.88,190.69 L277.81,191.66 L278.73,192.63 L279.64,193.59 L280.55,194.55 L281.45,195.50 L282.34,196.45 L283.23,197.40 L284.11,198.34 L284.99,199.28 L285.85,200.21 L286.71,201.14 L287.56,202.07 L288.41,202.99 L289.25,203.90 L290.08,204.82 L290.90,205.72 L291.72,206.62 L292.52,207.52 L293.32,208.41 L294.12,209.30 L294.90,210.18 L295.68,211.06 L296.45,211.93 L297.21,212.79 L297.96,213.66 L298.71,214.51 L299.44,215.36 L300.17,216.21 L300.89,217.04 L301.61,217.88 L302.31,218.71 L303.01,219.53 L303.69,220.34 L304.37,221.15 L305.04,221.96 L305.71,222.76 L306.36,223.55 L307.00,224.34 L307.64,225.12 L308.27,225.89 L308.89,226.66 L309.49,227.42 L310.09,228.17 L310.69,228.92 L311.27,229.67 L311.84,230.40 L312.40,231.13 L312.96,231.85 L313.50,232.57 L314.04,233.28 L314.57,233.98 L315.08,234.68 L315.59,235.36 L316.09,236.05 L316.58,236.72 L317.06,237.39 L317.53,238.05 L317.99,238.70 L318.44,239.35 L318.88,239.99 L319.31,240.62 L319.73,241.24 L320.14,241.86 L320.55,242.47 L320.94,243.07 L321.32,243.67 L321.69,244.25 L322.06,244.83 L322.41,245.40 L322.75,245.97 L323.09,246.52 L323.41,247.07 L323.72,247.61 L324.02,248.14 L324.32,248.66 L324.60,249.18 L324.87,249.69 L325.14,250.19 L325.39,250.68 L325.63,251.16 L325.86,251.64 L326.09,252.10 L326.30,252.56 L326.50,253.01 L326.69,253.45 L326.87,253.89 L327.05,254.31 L327.21,254.73 L327.36,255.13 L327.50,255.53 L327.63,255.92 L327.75,256.30 L327.86,256.68 L327.96,257.04 L328.05,257.40 L328.13,257.74 L328.20,258.08 L328.26,258.41 L328.31,258.73 L328.35,259.04 L328.37,259.34 L328.39,259.64 L328.40,259.92 L328.40,260.20 L328.38,260.46 L328.36,260.72 L328.33,260.97 L328.29,261.21 L328.23,261.43 L328.17,261.66 L328.09,261.87 L328.01,262.07 L327.92,262.26 L327.81,262.44 L327.70,262.62 L327.57,262.78 L327.44,262.94 L327.31,263.07 L327.17,263.19 L327.02,263.30 L326.86,263.40 L326.70,263.49 L326.52,263.57 L326.33,263.64 L326.13,263.71 L325.92,263.76 L325.70,263.80 L325.47,263.84 L325.24,263.86 L324.99,263.88 L324.73,263.88 L324.46,263.88 L324.18,263.87 L323.90,263.85 L323.60,263.81 L323.29,263.77 L322.98,263.72 L322.65,263.66 L322.31,263.59 L321.97,263.51 L321.61,263.42 L321.25,263.33 L320.87,263.22 L320.49,263.10 L320.10,262.98 L319.70,262.84 L319.28,262.69 L318.86,262.54 L318.43,262.37 L317.99,262.20 L317.54,262.02 L317.09,261.82 L316.62,261.62 L316.14,261.41 L315.66,261.19 L315.16,260.96 L314.66,260.72 L314.15,260.47 L313.62,260.21 L313.09,259.94 L312.56,259.67 L312.01,259.38 L311.45,259.08 L310.89,258.78 L310.31,258.47 L309.73,258.14 L309.14,257.81 L308.54,257.47 L307.93,257.12 L307.32,256.76 L306.69,256.39 L306.06,256.01 L305.42,255.62 L304.77,255.23 L304.11,254.82 L303.45,254.41 L302.77,253.99 L302.09,253.55 L301.40,253.11 L300.70,252.66 L300.00,252.20 L299.28,251.74 L298.56,251.26 L297.84,250.78 L297.10,250.28 L296.36,249.78 L295.61,249.27 L294.85,248.75 L294.08,248.22 L293.31,247.69 L292.53,247.14 L291.74,246.59 L290.95,246.03 L290.14,245.46 L289.34,244.88 L288.52,244.30 L287.70,243.70 L286.87,243.10 L286.03,242.49 L285.19,241.87 L284.34,241.25 L283.48,240.61 L282.62,239.97 L281.75,239.32 L280.88,238.66 L279.99,238.00 L279.10,237.33 L278.21,236.65 L277.31,235.96 L276.40,235.26 L275.49,234.56 L274.57,233.85 L273.64,233.14 L272.71,232.41 L271.78,231.68 L270.83,230.94 L269.88,230.20 L268.93,229.45 L267.97,228.69 L267.01,227.92 L266.04,227.15 L265.06,226.37 L264.08,225.58 L263.10,224.79 L262.10,223.99 L261.11,223.19 L260.11,222.37 L259.10,221.55 L258.09,220.73 L257.08,219.90 L256.06,219.06 L255.03,218.22 L254.00,217.37 L252.97,216.51 L251.93,215.65 L250.89,214.78 L249.85,213.91 L248.80,213.03 L247.74,212.15 L246.69,211.26 L245.62,210.36 L244.56,209.46 L243.49,208.55 L242.42,207.64 L241.34,206.72 L240.26,205.80 L239.18,204.87 L238.10,203.94 L237.01,203.00 L235.92,202.06 L234.82,201.11 L233.72,200.15 L232.62,199.20 L231.52,198.23 L230.42,197.27 L229.31,196.30 L228.20,195.32 L227.09,194.34 L225.97,193.35 L224.85,192.37 L223.73,191.37 L222.61,190.37 L221.49,189.37 L220.36,188.37 L219.24,187.36 L218.11,186.35 L216.98,185.33 L215.84,184.31 L214.71,183.29 L213.57,182.26 L212.44,181.23 L211.30,180.20 L210.16,179.16 L209.02,178.12 L207.88,177.08 L206.74,176.04 L205.60,174.99 L204.45,173.94 L203.31,172.88 L202.16,171.83 L201.02,170.77 L199.87,169.71 L198.73,168.64 L197.58,167.58 L196.44,166.51 L195.29,165.44 L194.15,164.37 L193.00,163.29 L191.86,162.21 L190.72,161.13 L189.57,160.05 L188.43,158.97 L187.29,157.89 L186.15,156.80 L185.00,155.72 L183.86,154.63 L182.73,153.54 L181.59,152.45 L180.45,151.36 L179.31,150.27 L178.18,149.17 L177.05,148.08 L175.92,146.99 L174.79,145.89 L173.66,144.80 L172.53,143.70 L171.41,142.60 L170.28,141.51 L169.16,140.41 L168.04,139.31 L166.93,138.22 L165.81,137.12 L164.70,136.02 L163.59,134.93 L162.48,133.83 L161.38,132.73 L160.27,131.64 L159.17,130.55 L158.08,129.45 L156.98,128.36 L155.89,127.27 L154.80,126.18 L153.72,125.09 L152.63,124.00 L151.55,122.92 L150.48,121.83 L149.40,120.75 L148.33,119.67 L147.27,118.59 L146.20,117.51 L145.14,116.43 L144.09,115.36 L143.03,114.29 L141.99,113.22 L140.94,112.15 L139.90,111.08 L138.86,110.02 L137.83,108.96 L136.80,107.90 L135.78,106.85 L134.76,105.80 L133.74,104.75 L132.73,103.70 L131.72,102.66 L130.72,101.62 L129.72,100.58 L128.73,99.55 L127.74,98.52 L126.76,97.49 L125.78,96.46 L124.81,95.44 L123.84,94.43 L122.88,93.42 L121.92,92.41 L120.97,91.40 L120.02,90.40 L119.08,89.40 L118.14,88.41 L117.21,87.42 L116.29,86.44 L115.37,85.46 L114.45,84.49 L113.55,83.52 L112.64,82.55 L111.75,81.59 L110.85,80.64 L109.97,79.69 L109.09,78.75 L108.22,77.81 L107.35,76.87 L106.49,75.94 L105.63,75.02 L104.78,74.10 L103.94,73.19 L103.11,72.28 L102.28,71.38 L101.45,70.49 L100.64,69.60 L99.83,68.72 L99.02,67.84 L98.23,66.97 L97.44,66.10 L96.65,65.24 L95.88,64.39 L95.11,63.54 L94.35,62.70 L93.59,61.87 L92.85,61.04 L92.11,60.22 L91.37,59.41 L90.65,58.60 L89.93,57.80 L89.22,57.00 L88.51,56.22 L87.82,55.44 L87.13,54.66 L86.45,53.90 L85.78,53.14 L85.11,52.38 L84.46,51.64 L83.81,50.90 L83.17,50.16 L82.54,49.44 L81.92,48.72 L81.31,48.00 L80.71,47.29 L80.11,46.60 L79.53,45.90 L78.95,45.22 L78.39,44.54 L77.83,43.87 L77.28,43.20 L76.74,42.54 L76.21,41.89 L75.69,41.25 L75.18,40.62 L74.67,39.99 L74.18,39.37 L73.70,38.75 L73.22,38.15 L72.76,37.55 L72.31,36.96 L71.86,36.38 L71.42,35.80 L71.00,35.23 L70.58,34.67 L70.18,34.12 L69.78,33.58 L69.39,33.04 L69.02,32.51 L68.65,31.99 L68.29,31.48 L67.95,30.98 L67.61,30.48 L67.28,29.99 L66.97,29.51 L66.66,29.04 L66.36,28.58 L66.08,28.12 L65.80,27.68 L65.53,27.24 L65.27,26.81 L65.03,26.39 L64.79,25.98 L64.56,25.58 L64.34,25.19 L64.13,24.81 L63.93,24.43 L63.74,24.07 L63.56,23.71 L63.39,23.36 L63.23,23.02 L63.09,22.69 L62.95,22.37 L62.82,22.06 L62.70,21.76 L62.59,21.47 L62.49,21.18 L62.40,20.91 L62.32,20.64 L62.25,20.39 L62.19,20.14 L62.14,19.91 L62.10,19.68 L62.07,19.46 L62.05,19.25 L62.04,19.05 L62.04,18.86 L62.05,18.68 L62.07,18.51 L62.10,18.35 L62.14,18.20 L62.19,18.06 L62.25,17.93 L62.33,17.81 L62.41,17.70 L62.50,17.60Z" stroke="#ff00ff" stroke-width="1.9"/>
<path d="M116.29,64.37 L116.37,64.29 L116.45,64.23 L116.54,64.16 L116.63,64.11 L116.73,64.06 L116.83,64.01 L116.94,63.97 L117.06,63.94 L117.18,63.91 L117.31,63.89 L117.45,63.87 L117.59,63.86 L117.73,63.86 L117.89,63.86 L118.05,63.86 L118.21,63.88 L118.38,63.89 L118.56,63.92 L118.74,63.95 L118.93,63.98 L119.12,64.02 L119.32,64.07 L119.53,64.12 L119.74,64.18 L119.96,64.24 L120.18,64.31 L120.41,64.39 L120.65,64.47 L120.89,64.55 L121.13,64.65 L121.39,64.74 L121.64,64.85 L121.91,64.96 L122.18,65.07 L122.45,65.19 L122.73,65.32 L123.02,65.45 L123.31,65.58 L123.61,65.73 L123.91,65.88 L124.22,66.03 L124.53,66.19 L124.85,66.35 L125.18,66.52 L125.51,66.70 L125.84,66.88 L126.18,67.07 L126.53,67.26 L126.88,67.46 L127.24,67.66 L127.60,67.87 L127.96,68.09 L128.34,68.31 L128.71,68.53 L129.10,68.76 L129.48,69.00 L129.88,69.24 L130.27,69.48 L130.68,69.74 L131.08,69.99 L131.50,70.25 L131.92,70.52 L132.34,70.80 L132.77,71.07 L133.20,71.36 L133.63,71.64 L134.08,71.94 L134.52,72.24 L134.97,72.54 L135.43,72.85 L135.89,73.16 L136.35,73.48 L136.82,73.80 L137.30,74.13 L137.78,74.47 L138.26,74.81 L138.75,75.15 L139.24,75.50 L139.73,75.85 L140.23,76.21 L140.74,76.57 L141.25,76.94 L141.76,77.31 L142.28,77.69 L142.80,78.07 L143.32,78.46 L143.85,78.85 L144.39,79.24 L144.92,79.64 L145.47,80.05 L146.01,80.46 L146.56,80.87 L147.11,81.29 L147.67,81.71 L148.23,82.14 L148.79,82.57 L149.36,83.00 L149.93,83.44 L150.50,83.89 L151.08,84.33 L151.66,84.79 L152.25,85.24 L152.84,85.70 L153.43,86.16 L154.02,86.63 L154.62,87.10 L155.23,87.58 L155.83,88.06 L156.44,88.54 L157.05,89.02 L157.67,89.51 L158.29,90.01 L158.91,90.50 L159.53,91.00 L160.16,91.50 L160.79,92.01 L161.42,92.52 L162.06,93.03 L162.70,93.55 L163.34,94.07 L163.98,94.59 L164.63,95.12 L165.28,95.65 L165.93,96.18 L166.59,96.72 L167.24,97.25 L167.90,97.79 L168.57,98.34 L169.23,98.89 L169.90,99.44 L170.57,99.99 L171.24,100.54 L171.91,101.10 L172.59,101.66 L173.26,102.23 L173.94,102.79 L174.62,103.36 L175.31,103.93 L175.99,104.50 L176.68,105.08 L177.37,105.66 L178.06,106.24 L178.75,106.82 L179.44,107.41 L180.13,107.99 L180.83,108.58 L181.52,109.18 L182.22,109.77 L182.92,110.37 L183.62,110.97 L184.32,111.57 L185.02,112.17 L185.72,112.78 L186.43,113.39 L187.13,114.00 L187.84,114.61 L188.54,115.22 L189.25,115.84 L189.95,116.45 L190.66,117.07 L191.37,117.69 L192.08,118.31 L192.78,118.94 L193.49,119.56 L194.20,120.19 L194.91,120.81 L195.62,121.44 L196.33,122.07 L197.04,122.71 L197.75,123.34 L198.46,123.97 L199.16,124.61 L199.87,125.25 L200.58,125.89 L201.28,126.53 L201.99,127.17 L202.69,127.81 L203.40,128.46 L204.10,129.10 L204.80,129.75 L205.50,130.40 L206.20,131.05 L206.90,131.70 L207.60,132.35 L208.29,133.00 L208.99,133.65 L209.68,134.31 L210.37,134.96 L211.07,135.62 L211.75,136.27 L212.44,136.93 L213.13,137.59 L213.81,138.25 L214.49,138.90 L215.17,139.56 L215.85,140.22 L216.53,140.88 L217.20,141.54 L217.88,142.20 L218.55,142.86 L219.22,143.52 L219.88,144.18 L220.55,144.84 L221.21,145.50 L221.87,146.16 L222.52,146.82 L223.18,147.48 L223.83,148.14 L224.48,148.80 L225.13,149.46 L225.77,150.12 L226.42,150.78 L227.05,151.43 L227.69,152.09 L228.33,152.74 L228.96,153.40 L229.59,154.05 L230.22,154.70 L230.84,155.35 L231.47,156.00 L232.09,156.65 L232.70,157.29 L233.32,157.94 L233.93,158.58 L234.54,159.22 L235.14,159.86 L235.75,160.50 L236.35,161.14 L236.94,161.77 L237.54,162.40 L238.13,163.03 L238.71,163.66 L239.30,164.29 L239.88,164.92 L240.46,165.54 L241.03,166.16 L241.60,166.78 L242.17,167.40 L242.73,168.01 L243.29,168.63 L243.85,169.24 L244.40,169.84 L244.95,170.45 L245.50,171.05 L246.04,171.65 L246.58,172.25 L247.11,172.84 L247.65,173.44 L248.17,174.02 L248.70,174.61 L249.22,175.19 L249.74,175.77 L250.25,176.35 L250.76,176.92 L251.26,177.49 L251.76,178.06 L252.26,178.63 L252.76,179.19 L253.24,179.74 L253.73,180.30 L254.21,180.85 L254.69,181.40 L255.16,181.94 L255.63,182.48 L256.09,183.02 L256.55,183.55 L257.00,184.08 L257.45,184.61 L257.90,185.13 L258.34,185.65 L258.78,186.17 L259.21,186.68 L259.64,187.19 L260.06,187.69 L260.48,188.19 L260.90,188.68 L261.31,189.18 L261.71,189.66 L262.11,190.15 L262.51,190.63 L262.90,191.10 L263.28,191.57 L263.66,192.04 L264.04,192.51 L264.41,192.97 L264.77,193.42 L265.13,193.87 L265.48,194.32 L265.83,194.76 L266.18,195.20 L266.51,195.63 L266.85,196.06 L267.18,196.49 L267.50,196.91 L267.81,197.33 L268.12,197.74 L268.43,198.15 L268.73,198.55 L269.03,198.95 L269.31,199.35 L269.60,199.74 L269.88,200.12 L270.15,200.50 L270.41,200.88 L270.68,201.25 L270.93,201.61 L271.18,201.98 L271.42,202.33 L271.66,202.68 L271.89,203.03 L272.12,203.37 L272.34,203.71 L272.56,204.04 L272.77,204.37 L272.97,204.69 L273.17,205.01 L273.36,205.32 L273.54,205.63 L273.72,205.93 L273.90,206.23 L274.07,206.52 L274.23,206.81 L274.38,207.09 L274.53,207.37 L274.68,207.64 L274.82,207.91 L274.95,208.17 L275.08,208.42 L275.20,208.67 L275.31,208.92 L275.42,209.16 L275.52,209.39 L275.62,209.62 L275.71,209.85 L275.79,210.07 L275.87,210.28 L275.94,210.49 L276.00,210.69 L276.06,210.88 L276.12,211.08 L276.17,211.26 L276.21,211.44 L276.24,211.62 L276.27,211.79 L276.29,211.95 L276.31,212.11 L276.32,212.26 L276.33,212.41 L276.33,212.55 L276.32,212.68 L276.30,212.81 L276.28,212.94 L276.26,213.06 L276.23,213.17 L276.19,213.28 L276.14,213.38 L276.09,213.48 L276.04,213.57 L275.98,213.65 L275.91,213.73 L275.84,213.80 L275.77,213.86 L275.69,213.91 L275.60,213.96 L275.51,214.00 L275.41,214.04 L275.31,214.07 L275.20,214.09 L275.09,214.11 L274.97,214.13 L274.84,214.14 L274.71,214.14 L274.57,214.14 L274.42,214.13 L274.27,214.11 L274.11,214.09 L273.95,214.07 L273.78,214.03 L273.61,214.00 L273.42,213.95 L273.24,213.91 L273.05,213.85 L272.85,213.79 L272.64,213.72 L272.43,213.65 L272.22,213.58 L271.99,213.49 L271.77,213.40 L271.53,213.31 L271.30,213.21 L271.05,213.10 L270.80,212.99 L270.54,212.88 L270.28,212.75 L270.01,212.62 L269.74,212.49 L269.46,212.35 L269.18,212.21 L268.89,212.06 L268.59,211.90 L268.29,211.74 L267.99,211.57 L267.67,211.40 L267.36,211.22 L267.03,211.04 L266.71,210.85 L266.37,210.65 L266.03,210.45 L265.69,210.25 L265.34,210.04 L264.98,209.82 L264.62,209.60 L264.26,209.37 L263.89,209.14 L263.51,208.90 L263.13,208.66 L262.75,208.41 L262.36,208.16 L261.96,207.90 L261.56,207.63 L261.15,207.36 L260.74,207.09 L260.33,206.81 L259.91,206.52 L259.48,206.23 L259.05,205.94 L258.61,205.64 L258.17,205.33 L257.73,205.02 L257.28,204.71 L256.83,204.39 L256.37,204.06 L255.90,203.73 L255.44,203.40 L254.96,203.06 L254.49,202.71 L254.01,202.36 L253.52,202.01 L253.03,201.65 L252.54,201.28 L252.04,200.91 L251.53,200.54 L251.03,200.16 L250.52,199.78 L250.00,199.39 L249.48,199.00 L248.95,198.60 L248.43,198.20 L247.89,197.80 L247.36,197.39 L246.82,196.98 L246.27,196.56 L245.72,196.14 L245.17,195.71 L244.62,195.28 L244.06,194.84 L243.49,194.41 L242.92,193.96 L242.35,193.52 L241.78,193.06 L241.20,192.61 L240.62,192.15 L240.03,191.69 L239.44,191.22 L238.85,190.75 L238.26,190.28 L237.66,189.80 L237.06,189.32 L236.45,188.83 L235.84,188.34 L235.23,187.85 L234.62,187.35 L234.00,186.85 L233.38,186.35 L232.75,185.84 L232.13,185.33 L231.50,184.82 L230.86,184.30 L230.23,183.78 L229.59,183.25 L228.95,182.73 L228.31,182.19 L227.66,181.66 L227.02,181.12 L226.36,180.58 L225.71,180.04 L225.06,179.49 L224.40,178.94 L223.74,178.39 L223.08,177.84 L222.42,177.28 L221.75,176.71 L221.08,176.15 L220.41,175.58 L219.74,175.01 L219.07,174.44 L218.40,173.86 L217.72,173.29 L217.04,172.71 L216.36,172.12 L215.68,171.54 L215.00,170.95 L214.31,170.36 L213.63,169.76 L212.94,169.17 L212.25,168.57 L211.56,167.97 L210.87,167.37 L210.18,166.77 L209.49,166.16 L208.79,165.55 L208.10,164.94 L207.40,164.33 L206.70,163.71 L206.01,163.10 L205.31,162.48 L204.61,161.86 L203.91,161.24 L203.21,160.62 L202.51,159.99 L201.81,159.36 L201.10,158.74 L200.40,158.11 L199.70,157.47 L199.00,156.84 L198.30,156.21 L197.59,155.57 L196.89,154.93 L196.19,154.29 L195.49,153.65 L194.79,153.01 L194.08,152.37 L193.38,151.72 L192.68,151.08 L191.98,150.43 L191.28,149.78 L190.58,149.13 L189.89,148.48 L189.19,147.83 L188.49,147.18 L187.79,146.53 L187.10,145.88 L186.40,145.22 L185.71,144.57 L185.02,143.91 L184.33,143.26 L183.64,142.60 L182.95,141.94 L182.26,141.29 L181.57,140.63 L180.89,139.97 L180.20,139.31 L179.52,138.65 L178.84,138.00 L178.16,137.34 L177.48,136.68 L176.80,136.02 L176.13,135.36 L175.45,134.70 L174.78,134.05 L174.11,133.39 L173.44,132.73 L172.78,132.07 L172.11,131.42 L171.45,130.76 L170.79,130.10 L170.13,129.45 L169.47,128.80 L168.82,128.14 L168.16,127.49 L167.51,126.84 L166.86,126.19 L166.22,125.54 L165.57,124.89 L164.93,124.24 L164.29,123.60 L163.65,122.95 L163.02,122.31 L162.39,121.67 L161.76,121.03 L161.13,120.39 L160.51,119.75 L159.88,119.11 L159.27,118.48 L158.65,117.84 L158.04,117.21 L157.43,116.58 L156.82,115.95 L156.21,115.32 L155.61,114.70 L155.01,114.08 L154.42,113.46 L153.83,112.84 L153.24,112.22 L152.65,111.60 L152.07,110.99 L151.49,110.38 L150.92,109.77 L150.34,109.17 L149.77,108.56 L149.21,107.96 L148.65,107.36 L148.09,106.76 L147.54,106.17 L146.98,105.58 L146.44,104.99 L145.89,104.40 L145.35,103.82 L144.82,103.24 L144.28,102.66 L143.76,102.09 L143.23,101.52 L142.71,100.95 L142.19,100.38 L141.68,99.82 L141.17,99.26 L140.67,98.70 L140.17,98.15 L139.67,97.60 L139.18,97.05 L138.69,96.51 L138.21,95.97 L137.73,95.43 L137.25,94.90 L136.78,94.37 L136.31,93.84 L135.85,93.32 L135.39,92.80 L134.94,92.28 L134.49,91.77 L134.05,91.26 L133.61,90.76 L133.17,90.26 L132.74,89.76 L132.32,89.27 L131.90,88.78 L131.48,88.29 L131.07,87.81 L130.67,87.34 L130.27,86.86 L129.87,86.39 L129.48,85.93 L129.09,85.47 L128.71,85.01 L128.33,84.56 L127.96,84.11 L127.60,83.66 L127.24,83.22 L126.88,82.79 L126.53,82.36 L126.19,81.93 L125.85,81.50 L125.52,81.09 L125.19,80.67 L124.86,80.26 L124.55,79.86 L124.23,79.46 L123.93,79.06 L123.63,78.67 L123.33,78.28 L123.04,77.90 L122.75,77.52 L122.48,77.15 L122.20,76.78 L121.93,76.41 L121.67,76.05 L121.42,75.70 L121.17,75.35 L120.92,75.01 L120.68,74.67 L120.45,74.33 L120.22,74.00 L120.00,73.68 L119.78,73.36 L119.57,73.04 L119.37,72.73 L119.17,72.43 L118.97,72.13 L118.79,71.83 L118.61,71.54 L118.43,71.26 L118.26,70.98 L118.10,70.71 L117.94,70.44 L117.79,70.17 L117.64,69.92 L117.50,69.66 L117.37,69.41 L117.24,69.17 L117.12,68.93 L117.00,68.70 L116.90,68.48 L116.79,68.26 L116.69,68.04 L116.60,67.83 L116.52,67.62 L116.44,67.43 L116.36,67.23 L116.30,67.04 L116.24,66.86 L116.18,66.68 L116.13,66.51 L116.09,66.34 L116.05,66.18 L116.02,66.03 L116.00,65.88 L115.98,65.73 L115.97,65.59 L115.96,65.46 L115.96,65.33 L115.97,65.21 L115.98,65.10 L116.00,64.98 L116.02,64.88 L116.05,64.78 L116.09,64.69 L116.13,64.60 L116.18,64.52 L116.23,64.44 L116.29,64.37Z" stroke="#ff00ff" stroke-width="1.9"/>
<ellipse cx="209.70" cy="153.90" rx="3.05" ry="2.8" fill="#ff0000"/>
</g>
<rect x="34.50" y="5.50" width="351.00" height="297.00" fill="none" stroke="#adadad" stroke-width="1.1"/>
<path d="M34.50,302.50 v-3.00 M34.50,5.50 v3.00 M52.50,302.50 v-1.70 M52.50,5.50 v1.70 M69.50,302.50 v-1.70 M69.50,5.50 v1.70 M87.50,302.50 v-1.70 M87.50,5.50 v1.70 M104.50,302.50 v-1.70 M104.50,5.50 v1.70 M122.50,302.50 v-3.00 M122.50,5.50 v3.00 M139.50,302.50 v-1.70 M139.50,5.50 v1.70 M157.50,302.50 v-1.70 M157.50,5.50 v1.70 M174.50,302.50 v-1.70 M174.50,5.50 v1.70 M192.50,302.50 v-1.70 M192.50,5.50 v1.70 M210.50,302.50 v-3.00 M210.50,5.50 v3.00 M227.50,302.50 v-1.70 M227.50,5.50 v1.70 M245.50,302.50 v-1.70 M245.50,5.50 v1.70 M262.50,302.50 v-1.70 M262.50,5.50 v1.70 M280.50,302.50 v-1.70 M280.50,5.50 v1.70 M297.50,302.50 v-3.00 M297.50,5.50 v3.00 M315.50,302.50 v-1.70 M315.50,5.50 v1.70 M332.50,302.50 v-1.70 M332.50,5.50 v1.70 M350.50,302.50 v-1.70 M350.50,5.50 v1.70 M367.50,302.50 v-1.70 M367.50,5.50 v1.70 M385.50,302.50 v-3.00 M385.50,5.50 v3.00 M34.50,302.50 h3.80 M385.50,302.50 h-3.80 M34.50,289.50 h2.30 M385.50,289.50 h-2.30 M34.50,277.50 h2.30 M385.50,277.50 h-2.30 M34.50,264.50 h2.30 M385.50,264.50 h-2.30 M34.50,252.50 h3.80 M385.50,252.50 h-3.80 M34.50,240.50 h2.30 M385.50,240.50 h-2.30 M34.50,227.50 h2.30 M385.50,227.50 h-2.30 M34.50,215.50 h2.30 M385.50,215.50 h-2.30 M34.50,203.50 h3.80 M385.50,203.50 h-3.80 M34.50,190.50 h2.30 M385.50,190.50 h-2.30 M34.50,178.50 h2.30 M385.50,178.50 h-2.30 M34.50,165.50 h2.30 M385.50,165.50 h-2.30 M34.50,153.50 h3.80 M385.50,153.50 h-3.80 M34.50,141.50 h2.30 M385.50,141.50 h-2.30 M34.50,128.50 h2.30 M385.50,128.50 h-2.30 M34.50,116.50 h2.30 M385.50,116.50 h-2.30 M34.50,104.50 h3.80 M385.50,104.50 h-3.80 M34.50,91.50 h2.30 M385.50,91.50 h-2.30 M34.50,79.50 h2.30 M385.50,79.50 h-2.30 M34.50,66.50 h2.30 M385.50,66.50 h-2.30 M34.50,54.50 h3.80 M385.50,54.50 h-3.80 M34.50,42.50 h2.30 M385.50,42.50 h-2.30 M34.50,29.50 h2.30 M385.50,29.50 h-2.30 M34.50,17.50 h2.30 M385.50,17.50 h-2.30 M34.50,5.50 h3.80 M385.50,5.50 h-3.80" stroke="#999" stroke-width="1" fill="none"/>
<text x="26.20" y="8.60" font-size="10.00" text-anchor="start" textLength="6.10" lengthAdjust="spacingAndGlyphs">6</text>
<text x="26.20" y="58.10" font-size="10.00" text-anchor="start" textLength="6.10" lengthAdjust="spacingAndGlyphs">4</text>
<text x="26.20" y="107.60" font-size="10.00" text-anchor="start" textLength="6.10" lengthAdjust="spacingAndGlyphs">2</text>
<text x="26.20" y="157.10" font-size="10.00" text-anchor="start" textLength="6.10" lengthAdjust="spacingAndGlyphs">0</text>
<text x="26.20" y="206.60" font-size="10.00" text-anchor="start" textLength="6.10" lengthAdjust="spacingAndGlyphs">2</text>
<text x="26.20" y="256.10" font-size="10.00" text-anchor="start" textLength="6.10" lengthAdjust="spacingAndGlyphs">4</text>
<text x="26.20" y="305.60" font-size="10.00" text-anchor="start" textLength="6.10" lengthAdjust="spacingAndGlyphs">6</text>
<text x="30.40" y="313.70" font-size="10.00" text-anchor="start" textLength="15.00" lengthAdjust="spacingAndGlyphs">2.0</text>
<text x="118.15" y="313.70" font-size="10.00" text-anchor="start" textLength="15.00" lengthAdjust="spacingAndGlyphs">1.5</text>
<text x="205.90" y="313.70" font-size="10.00" text-anchor="start" textLength="15.00" lengthAdjust="spacingAndGlyphs">1.0</text>
<text x="293.65" y="313.70" font-size="10.00" text-anchor="start" textLength="15.00" lengthAdjust="spacingAndGlyphs">0.5</text>
<text x="377.50" y="313.70" font-size="10.00" text-anchor="start" textLength="15.00" lengthAdjust="spacingAndGlyphs">0.0</text>
<path d="M18.40,204.20 h6.7 M18.40,253.70 h6.7 M18.40,303.20 h6.7 M24.00,310.90 h6.4 M111.75,310.90 h6.4 M199.50,310.90 h6.4 M287.25,310.90 h6.4" stroke="#000" stroke-width="1.05" fill="none"/>
<text x="203.60" y="329.40" font-size="10.60" text-anchor="start" textLength="13.20" lengthAdjust="spacingAndGlyphs">w0</text>
<text transform="translate(11,159.5) rotate(-90)" font-size="13" textLength="11.3" lengthAdjust="spacingAndGlyphs">w1</text>
<text x="295.60" y="70.60" font-size="9.60" text-anchor="start" textLength="17.90" lengthAdjust="spacingAndGlyphs">Par.</text>
<text x="316.90" y="70.60" font-size="9.60" text-anchor="start" textLength="17.90" lengthAdjust="spacingAndGlyphs">JBP</text>
<g fill="none">
<path d="M51.1,203.8 H90" stroke="#0000ff" stroke-width="1.5" stroke-dasharray="2.3 5.07"/>
<path d="M51.1,228.2 H90.7" stroke="#ff8000" stroke-width="1.5" stroke-dasharray="8.6 5.4 2.3 2.3 2.3 2.3 2.3 5.5"/>
<path d="M51.1,253 H90" stroke="#20f830" stroke-width="1.8" stroke-dasharray="8.6 5.55"/>
<path d="M51.1,277.8 H87.9" stroke="#ff00ff" stroke-width="1.6"/>
</g>
<text x="110.10" y="206.30" font-size="8.90" text-anchor="start" textLength="41.90" lengthAdjust="spacingAndGlyphs">SALT−II</text>
<text x="107.70" y="231.40" font-size="8.90" text-anchor="start" textLength="53.50" lengthAdjust="spacingAndGlyphs">BAO+CMB</text>
<text x="107.70" y="256.20" font-size="8.90" text-anchor="start" textLength="71.30" lengthAdjust="spacingAndGlyphs">SALT−II+BAO</text>
<text x="107.70" y="281.30" font-size="8.90" text-anchor="start" textLength="102.50" lengthAdjust="spacingAndGlyphs">SALT−II+BAO+CMB</text>
</svg></body></html>
